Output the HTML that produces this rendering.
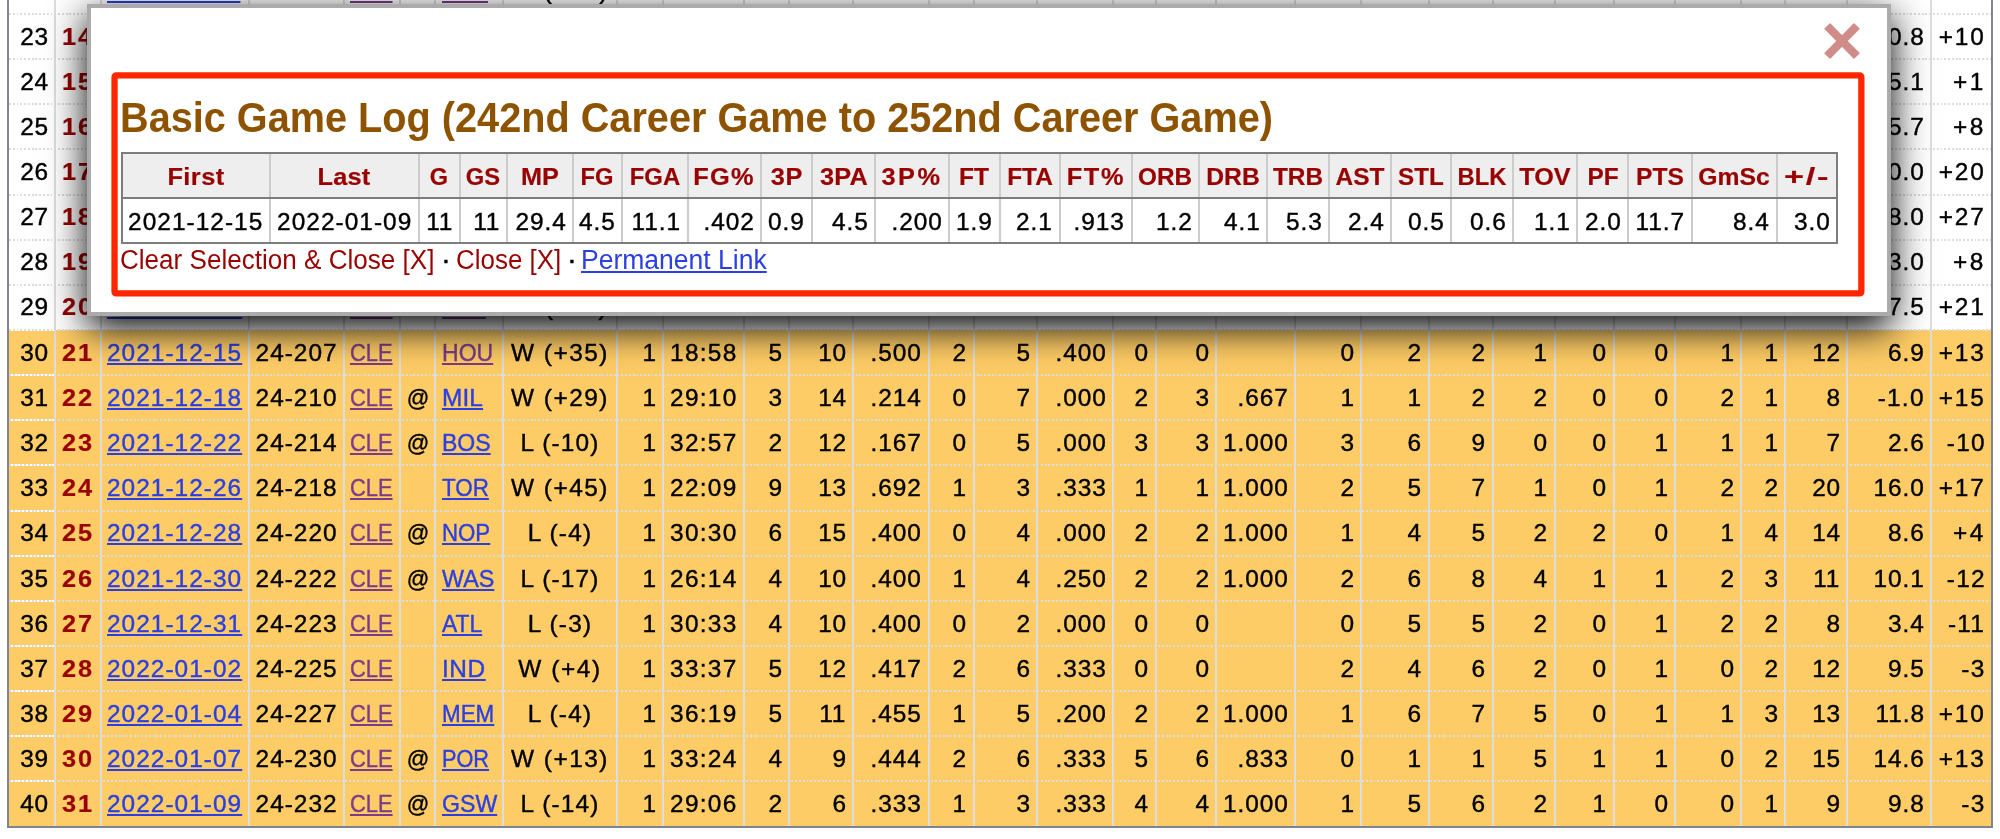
<!DOCTYPE html>
<html><head><meta charset="utf-8"><title>Game Log</title>
<style>
html,body{margin:0;padding:0;background:#fff}
body{width:2000px;height:839px;overflow:hidden;position:relative;font-family:"Liberation Sans",sans-serif;color:#000}
#tbl,#mlines{position:absolute;left:0;top:0;width:2000px;height:839px;overflow:hidden}
.tl{position:absolute;left:0;top:0;width:2000px;height:839px;overflow:hidden;will-change:transform}
.t{position:absolute;white-space:nowrap;font-size:23.7px;line-height:30.81px;display:block}
.t{-webkit-text-stroke:0.4px currentColor}
.b{font-weight:bold;-webkit-text-stroke:0.2px currentColor}
.g{color:#990000}
a.lk{color:#2b3fe2;text-decoration:underline;text-decoration-thickness:2px;text-underline-offset:1.5px}
a.vk{color:#7b3b88;text-decoration:underline;text-decoration-thickness:2px;text-underline-offset:1.5px}
.hl{position:absolute;left:8.20px;width:1983.80px;background:#fecc66}
.hd{position:absolute;left:9.20px;width:1982.80px;height:2px;background:repeating-linear-gradient(90deg,#dcdcdc 0,#dcdcdc 1.89px,transparent 1.89px,transparent 3.78px)}
.hd0{position:absolute;left:9.20px;width:45.00px;height:2px;background:#fff}
.vd{position:absolute;top:0;height:826.65px;width:2px;background:#ddd}
.vb{position:absolute;top:0;height:827.65px;width:2px;background:#7f848c}
.hb{position:absolute;left:7.20px;width:1985.80px;height:2px;background:#7f848c}
#modal{position:absolute;left:87px;top:4px;width:1804px;height:312px;box-sizing:border-box;background:#fff;border:4px solid #ababab;box-shadow:0 12px 36px 0 #000}
#closex{position:absolute}
#redbox{position:absolute;left:0;top:0}
.ttl{-webkit-text-stroke:0;color:#8e5300;font-size:42.0px;line-height:54.6px}
#mhead{position:absolute;background:#eee}
.mvd{position:absolute;width:2px;background:#ccc}
.mvb{position:absolute;width:2px;background:#7d7d7d}
.mhb{position:absolute;height:2px;background:#7d7d7d}
.mh{color:#990000}
.ft{color:#990000;font-size:27px;line-height:35.1px;-webkit-text-stroke:0}
.fd{color:#000;font-size:27px;line-height:35.1px}
a.pl{color:#2b3fe2;text-decoration:underline;text-decoration-thickness:2px;text-underline-offset:1.5px}
</style></head>
<body>
<div id="tbl">
<div class="hl" style="top:330.00px;height:496.65px"></div>
<div class="hd0" style="top:-32px"></div>
<div class="hd" style="top:-32px"></div>
<div class="hd0" style="top:13px"></div>
<div class="hd" style="top:13px"></div>
<div class="hd0" style="top:58px"></div>
<div class="hd" style="top:58px"></div>
<div class="hd0" style="top:103px"></div>
<div class="hd" style="top:103px"></div>
<div class="hd0" style="top:148px"></div>
<div class="hd" style="top:148px"></div>
<div class="hd0" style="top:194px"></div>
<div class="hd" style="top:194px"></div>
<div class="hd0" style="top:239px"></div>
<div class="hd" style="top:239px"></div>
<div class="hd0" style="top:284px"></div>
<div class="hd" style="top:284px"></div>
<div class="hd0" style="top:329px"></div>
<div class="hd" style="top:329px"></div>
<div class="hd0" style="top:374px"></div>
<div class="hd" style="top:374px"></div>
<div class="hd0" style="top:419px"></div>
<div class="hd" style="top:419px"></div>
<div class="hd0" style="top:464px"></div>
<div class="hd" style="top:464px"></div>
<div class="hd0" style="top:510px"></div>
<div class="hd" style="top:510px"></div>
<div class="hd0" style="top:555px"></div>
<div class="hd" style="top:555px"></div>
<div class="hd0" style="top:600px"></div>
<div class="hd" style="top:600px"></div>
<div class="hd0" style="top:645px"></div>
<div class="hd" style="top:645px"></div>
<div class="hd0" style="top:690px"></div>
<div class="hd" style="top:690px"></div>
<div class="hd0" style="top:735px"></div>
<div class="hd" style="top:735px"></div>
<div class="hd0" style="top:780px"></div>
<div class="hd" style="top:780px"></div>
<div class="vd" style="left:54px"></div>
<div class="vd" style="left:100px"></div>
<div class="vd" style="left:248px"></div>
<div class="vd" style="left:343px"></div>
<div class="vd" style="left:399px"></div>
<div class="vd" style="left:434px"></div>
<div class="vd" style="left:502px"></div>
<div class="vd" style="left:616px"></div>
<div class="vd" style="left:662px"></div>
<div class="vd" style="left:743px"></div>
<div class="vd" style="left:788px"></div>
<div class="vd" style="left:852px"></div>
<div class="vd" style="left:928px"></div>
<div class="vd" style="left:973px"></div>
<div class="vd" style="left:1036px"></div>
<div class="vd" style="left:1112px"></div>
<div class="vd" style="left:1155px"></div>
<div class="vd" style="left:1215px"></div>
<div class="vd" style="left:1294px"></div>
<div class="vd" style="left:1360px"></div>
<div class="vd" style="left:1428px"></div>
<div class="vd" style="left:1492px"></div>
<div class="vd" style="left:1554px"></div>
<div class="vd" style="left:1613px"></div>
<div class="vd" style="left:1674px"></div>
<div class="vd" style="left:1740px"></div>
<div class="vd" style="left:1784px"></div>
<div class="vd" style="left:1846px"></div>
<div class="vd" style="left:1930px"></div>
<div class="vb" style="left:7.20px"></div>
<div class="vb" style="left:1991.00px"></div>
<div class="hb" style="top:825.65px"></div>
</div>
<div id="tblt" class="tl">
<span class="t" style="top:-24.22px;letter-spacing:0.749px;right:1951.30px;transform-origin:100% 50%;transform:scaleX(1.0300);">22</span>
<span class="t b g" style="top:-24.22px;letter-spacing:1.810px;right:1905.80px;transform-origin:100% 50%;transform:scaleX(1.0700);">13</span>
<a class="t lk" style="top:-24.22px;letter-spacing:1.010px;left:107.20px;transform-origin:0 50%;transform:scaleX(1.0300);">2021-11-27</a>
<span class="t" style="top:-24.22px;letter-spacing:0.966px;right:1662.70px;transform-origin:100% 50%;transform:scaleX(1.0300);">24-189</span>
<a class="t vk" style="top:-24.22px;left:350.30px;transform-origin:0 50%;transform:scaleX(0.9234);">CLE</a>
<a class="t vk" style="top:-24.22px;left:442.00px;transform-origin:0 50%;transform:scaleX(0.9440);">ORL</a>
<span class="t" style="top:-24.22px;letter-spacing:1.442px;left:559.90px;transform-origin:50% 50%;transform:translateX(-50%) scaleX(1.0300);">W (+20)</span>
<span class="t" style="top:-24.22px;letter-spacing:0.749px;right:1343.50px;transform-origin:100% 50%;transform:scaleX(1.0300);">1</span>
<span class="t" style="top:-24.22px;letter-spacing:1.271px;right:1262.50px;transform-origin:100% 50%;transform:scaleX(1.0300);">30:43</span>
<span class="t" style="top:-24.22px;letter-spacing:0.749px;right:1217.40px;transform-origin:100% 50%;transform:scaleX(1.0300);">5</span>
<span class="t" style="top:-24.22px;letter-spacing:0.749px;right:1153.50px;transform-origin:100% 50%;transform:scaleX(1.0300);">12</span>
<span class="t" style="top:-24.22px;letter-spacing:0.909px;right:1077.90px;transform-origin:100% 50%;transform:scaleX(1.0300);">.417</span>
<span class="t" style="top:-24.22px;letter-spacing:0.749px;right:1032.80px;transform-origin:100% 50%;transform:scaleX(1.0300);">2</span>
<span class="t" style="top:-24.22px;letter-spacing:0.749px;right:969.00px;transform-origin:100% 50%;transform:scaleX(1.0300);">6</span>
<span class="t" style="top:-24.22px;letter-spacing:0.909px;right:893.70px;transform-origin:100% 50%;transform:scaleX(1.0300);">.333</span>
<span class="t" style="top:-24.22px;letter-spacing:0.749px;right:850.90px;transform-origin:100% 50%;transform:scaleX(1.0300);">0</span>
<span class="t" style="top:-24.22px;letter-spacing:0.749px;right:790.50px;transform-origin:100% 50%;transform:scaleX(1.0300);">0</span>
<span class="t" style="top:-24.22px;letter-spacing:0.749px;right:645.50px;transform-origin:100% 50%;transform:scaleX(1.0300);">1</span>
<span class="t" style="top:-24.22px;letter-spacing:0.749px;right:577.70px;transform-origin:100% 50%;transform:scaleX(1.0300);">6</span>
<span class="t" style="top:-24.22px;letter-spacing:0.749px;right:513.90px;transform-origin:100% 50%;transform:scaleX(1.0300);">7</span>
<span class="t" style="top:-24.22px;letter-spacing:0.749px;right:451.70px;transform-origin:100% 50%;transform:scaleX(1.0300);">2</span>
<span class="t" style="top:-24.22px;letter-spacing:0.749px;right:392.80px;transform-origin:100% 50%;transform:scaleX(1.0300);">0</span>
<span class="t" style="top:-24.22px;letter-spacing:0.749px;right:331.10px;transform-origin:100% 50%;transform:scaleX(1.0300);">0</span>
<span class="t" style="top:-24.22px;letter-spacing:0.749px;right:265.10px;transform-origin:100% 50%;transform:scaleX(1.0300);">1</span>
<span class="t" style="top:-24.22px;letter-spacing:0.749px;right:221.50px;transform-origin:100% 50%;transform:scaleX(1.0300);">3</span>
<span class="t" style="top:-24.22px;letter-spacing:0.749px;right:159.50px;transform-origin:100% 50%;transform:scaleX(1.0300);">12</span>
<span class="t" style="top:-24.22px;letter-spacing:0.962px;right:75.10px;transform-origin:100% 50%;transform:scaleX(1.0300);">8.9</span>
<span class="t" style="top:-24.22px;letter-spacing:1.858px;right:14.50px;transform-origin:100% 50%;transform:scaleX(1.0300);">+12</span>
<span class="t" style="top:21.73px;letter-spacing:0.749px;right:1951.30px;transform-origin:100% 50%;transform:scaleX(1.0300);">23</span>
<span class="t b g" style="top:21.73px;letter-spacing:1.810px;right:1905.80px;transform-origin:100% 50%;transform:scaleX(1.0700);">14</span>
<a class="t lk" style="top:21.73px;letter-spacing:1.010px;left:107.20px;transform-origin:0 50%;transform:scaleX(1.0300);">2021-11-29</a>
<span class="t" style="top:21.73px;letter-spacing:0.966px;right:1662.70px;transform-origin:100% 50%;transform:scaleX(1.0300);">24-191</span>
<a class="t vk" style="top:21.73px;left:350.30px;transform-origin:0 50%;transform:scaleX(0.9234);">CLE</a>
<span class="t" style="top:21.73px;left:417.75px;transform-origin:50% 50%;transform:translateX(-50%) scaleX(0.9377);">@</span>
<a class="t lk" style="top:21.73px;left:442.00px;transform-origin:0 50%;transform:scaleX(0.9845);">DAL</a>
<span class="t" style="top:21.73px;letter-spacing:1.442px;left:559.90px;transform-origin:50% 50%;transform:translateX(-50%) scaleX(1.0300);">W (+18)</span>
<span class="t" style="top:21.73px;letter-spacing:0.749px;right:1343.50px;transform-origin:100% 50%;transform:scaleX(1.0300);">1</span>
<span class="t" style="top:21.73px;letter-spacing:1.271px;right:1262.50px;transform-origin:100% 50%;transform:scaleX(1.0300);">28:38</span>
<span class="t" style="top:21.73px;letter-spacing:0.749px;right:1217.40px;transform-origin:100% 50%;transform:scaleX(1.0300);">5</span>
<span class="t" style="top:21.73px;letter-spacing:0.749px;right:1153.50px;transform-origin:100% 50%;transform:scaleX(1.0300);">11</span>
<span class="t" style="top:21.73px;letter-spacing:0.909px;right:1077.90px;transform-origin:100% 50%;transform:scaleX(1.0300);">.455</span>
<span class="t" style="top:21.73px;letter-spacing:0.749px;right:1032.80px;transform-origin:100% 50%;transform:scaleX(1.0300);">2</span>
<span class="t" style="top:21.73px;letter-spacing:0.749px;right:969.00px;transform-origin:100% 50%;transform:scaleX(1.0300);">6</span>
<span class="t" style="top:21.73px;letter-spacing:0.909px;right:893.70px;transform-origin:100% 50%;transform:scaleX(1.0300);">.333</span>
<span class="t" style="top:21.73px;letter-spacing:0.749px;right:850.90px;transform-origin:100% 50%;transform:scaleX(1.0300);">2</span>
<span class="t" style="top:21.73px;letter-spacing:0.749px;right:790.50px;transform-origin:100% 50%;transform:scaleX(1.0300);">2</span>
<span class="t" style="top:21.73px;letter-spacing:0.877px;right:711.10px;transform-origin:100% 50%;transform:scaleX(1.0300);">1.000</span>
<span class="t" style="top:21.73px;letter-spacing:0.749px;right:645.50px;transform-origin:100% 50%;transform:scaleX(1.0300);">0</span>
<span class="t" style="top:21.73px;letter-spacing:0.749px;right:577.70px;transform-origin:100% 50%;transform:scaleX(1.0300);">6</span>
<span class="t" style="top:21.73px;letter-spacing:0.749px;right:513.90px;transform-origin:100% 50%;transform:scaleX(1.0300);">6</span>
<span class="t" style="top:21.73px;letter-spacing:0.749px;right:451.70px;transform-origin:100% 50%;transform:scaleX(1.0300);">1</span>
<span class="t" style="top:21.73px;letter-spacing:0.749px;right:392.80px;transform-origin:100% 50%;transform:scaleX(1.0300);">1</span>
<span class="t" style="top:21.73px;letter-spacing:0.749px;right:331.10px;transform-origin:100% 50%;transform:scaleX(1.0300);">0</span>
<span class="t" style="top:21.73px;letter-spacing:0.749px;right:265.10px;transform-origin:100% 50%;transform:scaleX(1.0300);">1</span>
<span class="t" style="top:21.73px;letter-spacing:0.749px;right:221.50px;transform-origin:100% 50%;transform:scaleX(1.0300);">1</span>
<span class="t" style="top:21.73px;letter-spacing:0.749px;right:159.50px;transform-origin:100% 50%;transform:scaleX(1.0300);">14</span>
<span class="t" style="top:21.73px;letter-spacing:0.909px;right:75.10px;transform-origin:100% 50%;transform:scaleX(1.0300);">10.8</span>
<span class="t" style="top:21.73px;letter-spacing:1.858px;right:14.50px;transform-origin:100% 50%;transform:scaleX(1.0300);">+10</span>
<span class="t" style="top:66.88px;letter-spacing:0.749px;right:1951.30px;transform-origin:100% 50%;transform:scaleX(1.0300);">24</span>
<span class="t b g" style="top:66.88px;letter-spacing:1.810px;right:1905.80px;transform-origin:100% 50%;transform:scaleX(1.0700);">15</span>
<a class="t lk" style="top:66.88px;letter-spacing:1.010px;left:107.20px;transform-origin:0 50%;transform:scaleX(1.0300);">2021-12-01</a>
<span class="t" style="top:66.88px;letter-spacing:0.966px;right:1662.70px;transform-origin:100% 50%;transform:scaleX(1.0300);">24-193</span>
<a class="t vk" style="top:66.88px;left:350.30px;transform-origin:0 50%;transform:scaleX(0.9234);">CLE</a>
<span class="t" style="top:66.88px;left:417.75px;transform-origin:50% 50%;transform:translateX(-50%) scaleX(0.9377);">@</span>
<a class="t lk" style="top:66.88px;letter-spacing:0.177px;left:442.00px;transform-origin:0 50%;transform:scaleX(1.0300);">MIA</a>
<span class="t" style="top:66.88px;letter-spacing:1.442px;left:559.90px;transform-origin:50% 50%;transform:translateX(-50%) scaleX(1.0300);">W (+26)</span>
<span class="t" style="top:66.88px;letter-spacing:0.749px;right:1343.50px;transform-origin:100% 50%;transform:scaleX(1.0300);">1</span>
<span class="t" style="top:66.88px;letter-spacing:1.271px;right:1262.50px;transform-origin:100% 50%;transform:scaleX(1.0300);">30:22</span>
<span class="t" style="top:66.88px;letter-spacing:0.749px;right:1217.40px;transform-origin:100% 50%;transform:scaleX(1.0300);">7</span>
<span class="t" style="top:66.88px;letter-spacing:0.749px;right:1153.50px;transform-origin:100% 50%;transform:scaleX(1.0300);">14</span>
<span class="t" style="top:66.88px;letter-spacing:0.909px;right:1077.90px;transform-origin:100% 50%;transform:scaleX(1.0300);">.500</span>
<span class="t" style="top:66.88px;letter-spacing:0.749px;right:1032.80px;transform-origin:100% 50%;transform:scaleX(1.0300);">3</span>
<span class="t" style="top:66.88px;letter-spacing:0.749px;right:969.00px;transform-origin:100% 50%;transform:scaleX(1.0300);">8</span>
<span class="t" style="top:66.88px;letter-spacing:0.909px;right:893.70px;transform-origin:100% 50%;transform:scaleX(1.0300);">.375</span>
<span class="t" style="top:66.88px;letter-spacing:0.749px;right:850.90px;transform-origin:100% 50%;transform:scaleX(1.0300);">1</span>
<span class="t" style="top:66.88px;letter-spacing:0.749px;right:790.50px;transform-origin:100% 50%;transform:scaleX(1.0300);">1</span>
<span class="t" style="top:66.88px;letter-spacing:0.877px;right:711.10px;transform-origin:100% 50%;transform:scaleX(1.0300);">1.000</span>
<span class="t" style="top:66.88px;letter-spacing:0.749px;right:645.50px;transform-origin:100% 50%;transform:scaleX(1.0300);">1</span>
<span class="t" style="top:66.88px;letter-spacing:0.749px;right:577.70px;transform-origin:100% 50%;transform:scaleX(1.0300);">3</span>
<span class="t" style="top:66.88px;letter-spacing:0.749px;right:513.90px;transform-origin:100% 50%;transform:scaleX(1.0300);">4</span>
<span class="t" style="top:66.88px;letter-spacing:0.749px;right:451.70px;transform-origin:100% 50%;transform:scaleX(1.0300);">1</span>
<span class="t" style="top:66.88px;letter-spacing:0.749px;right:392.80px;transform-origin:100% 50%;transform:scaleX(1.0300);">0</span>
<span class="t" style="top:66.88px;letter-spacing:0.749px;right:331.10px;transform-origin:100% 50%;transform:scaleX(1.0300);">1</span>
<span class="t" style="top:66.88px;letter-spacing:0.749px;right:265.10px;transform-origin:100% 50%;transform:scaleX(1.0300);">0</span>
<span class="t" style="top:66.88px;letter-spacing:0.749px;right:221.50px;transform-origin:100% 50%;transform:scaleX(1.0300);">2</span>
<span class="t" style="top:66.88px;letter-spacing:0.749px;right:159.50px;transform-origin:100% 50%;transform:scaleX(1.0300);">18</span>
<span class="t" style="top:66.88px;letter-spacing:0.909px;right:75.10px;transform-origin:100% 50%;transform:scaleX(1.0300);">15.1</span>
<span class="t" style="top:66.88px;letter-spacing:2.413px;right:14.50px;transform-origin:100% 50%;transform:scaleX(1.0300);">+1</span>
<span class="t" style="top:112.03px;letter-spacing:0.749px;right:1951.30px;transform-origin:100% 50%;transform:scaleX(1.0300);">25</span>
<span class="t b g" style="top:112.03px;letter-spacing:1.810px;right:1905.80px;transform-origin:100% 50%;transform:scaleX(1.0700);">16</span>
<a class="t lk" style="top:112.03px;letter-spacing:1.010px;left:107.20px;transform-origin:0 50%;transform:scaleX(1.0300);">2021-12-03</a>
<span class="t" style="top:112.03px;letter-spacing:0.966px;right:1662.70px;transform-origin:100% 50%;transform:scaleX(1.0300);">24-195</span>
<a class="t vk" style="top:112.03px;left:350.30px;transform-origin:0 50%;transform:scaleX(0.9234);">CLE</a>
<span class="t" style="top:112.03px;left:417.75px;transform-origin:50% 50%;transform:translateX(-50%) scaleX(0.9377);">@</span>
<a class="t lk" style="top:112.03px;left:442.00px;transform-origin:0 50%;transform:scaleX(0.9850);">WAS</a>
<span class="t" style="top:112.03px;letter-spacing:1.442px;left:559.90px;transform-origin:50% 50%;transform:translateX(-50%) scaleX(1.0300);">W (+15)</span>
<span class="t" style="top:112.03px;letter-spacing:0.749px;right:1343.50px;transform-origin:100% 50%;transform:scaleX(1.0300);">1</span>
<span class="t" style="top:112.03px;letter-spacing:1.271px;right:1262.50px;transform-origin:100% 50%;transform:scaleX(1.0300);">31:17</span>
<span class="t" style="top:112.03px;letter-spacing:0.749px;right:1217.40px;transform-origin:100% 50%;transform:scaleX(1.0300);">3</span>
<span class="t" style="top:112.03px;letter-spacing:0.749px;right:1153.50px;transform-origin:100% 50%;transform:scaleX(1.0300);">9</span>
<span class="t" style="top:112.03px;letter-spacing:0.909px;right:1077.90px;transform-origin:100% 50%;transform:scaleX(1.0300);">.333</span>
<span class="t" style="top:112.03px;letter-spacing:0.749px;right:1032.80px;transform-origin:100% 50%;transform:scaleX(1.0300);">1</span>
<span class="t" style="top:112.03px;letter-spacing:0.749px;right:969.00px;transform-origin:100% 50%;transform:scaleX(1.0300);">5</span>
<span class="t" style="top:112.03px;letter-spacing:0.909px;right:893.70px;transform-origin:100% 50%;transform:scaleX(1.0300);">.200</span>
<span class="t" style="top:112.03px;letter-spacing:0.749px;right:850.90px;transform-origin:100% 50%;transform:scaleX(1.0300);">2</span>
<span class="t" style="top:112.03px;letter-spacing:0.749px;right:790.50px;transform-origin:100% 50%;transform:scaleX(1.0300);">2</span>
<span class="t" style="top:112.03px;letter-spacing:0.877px;right:711.10px;transform-origin:100% 50%;transform:scaleX(1.0300);">1.000</span>
<span class="t" style="top:112.03px;letter-spacing:0.749px;right:645.50px;transform-origin:100% 50%;transform:scaleX(1.0300);">0</span>
<span class="t" style="top:112.03px;letter-spacing:0.749px;right:577.70px;transform-origin:100% 50%;transform:scaleX(1.0300);">5</span>
<span class="t" style="top:112.03px;letter-spacing:0.749px;right:513.90px;transform-origin:100% 50%;transform:scaleX(1.0300);">5</span>
<span class="t" style="top:112.03px;letter-spacing:0.749px;right:451.70px;transform-origin:100% 50%;transform:scaleX(1.0300);">1</span>
<span class="t" style="top:112.03px;letter-spacing:0.749px;right:392.80px;transform-origin:100% 50%;transform:scaleX(1.0300);">1</span>
<span class="t" style="top:112.03px;letter-spacing:0.749px;right:331.10px;transform-origin:100% 50%;transform:scaleX(1.0300);">0</span>
<span class="t" style="top:112.03px;letter-spacing:0.749px;right:265.10px;transform-origin:100% 50%;transform:scaleX(1.0300);">1</span>
<span class="t" style="top:112.03px;letter-spacing:0.749px;right:221.50px;transform-origin:100% 50%;transform:scaleX(1.0300);">2</span>
<span class="t" style="top:112.03px;letter-spacing:0.749px;right:159.50px;transform-origin:100% 50%;transform:scaleX(1.0300);">9</span>
<span class="t" style="top:112.03px;letter-spacing:0.962px;right:75.10px;transform-origin:100% 50%;transform:scaleX(1.0300);">5.7</span>
<span class="t" style="top:112.03px;letter-spacing:2.413px;right:14.50px;transform-origin:100% 50%;transform:scaleX(1.0300);">+8</span>
<span class="t" style="top:157.18px;letter-spacing:0.749px;right:1951.30px;transform-origin:100% 50%;transform:scaleX(1.0300);">26</span>
<span class="t b g" style="top:157.18px;letter-spacing:1.810px;right:1905.80px;transform-origin:100% 50%;transform:scaleX(1.0700);">17</span>
<a class="t lk" style="top:157.18px;letter-spacing:1.010px;left:107.20px;transform-origin:0 50%;transform:scaleX(1.0300);">2021-12-05</a>
<span class="t" style="top:157.18px;letter-spacing:0.966px;right:1662.70px;transform-origin:100% 50%;transform:scaleX(1.0300);">24-197</span>
<a class="t vk" style="top:157.18px;left:350.30px;transform-origin:0 50%;transform:scaleX(0.9234);">CLE</a>
<a class="t lk" style="top:157.18px;left:442.00px;transform-origin:0 50%;transform:scaleX(0.9671);">UTA</a>
<span class="t" style="top:157.18px;letter-spacing:1.175px;left:559.90px;transform-origin:50% 50%;transform:translateX(-50%) scaleX(1.0300);">L (-1)</span>
<span class="t" style="top:157.18px;letter-spacing:0.749px;right:1343.50px;transform-origin:100% 50%;transform:scaleX(1.0300);">1</span>
<span class="t" style="top:157.18px;letter-spacing:1.271px;right:1262.50px;transform-origin:100% 50%;transform:scaleX(1.0300);">33:30</span>
<span class="t" style="top:157.18px;letter-spacing:0.749px;right:1217.40px;transform-origin:100% 50%;transform:scaleX(1.0300);">8</span>
<span class="t" style="top:157.18px;letter-spacing:0.749px;right:1153.50px;transform-origin:100% 50%;transform:scaleX(1.0300);">15</span>
<span class="t" style="top:157.18px;letter-spacing:0.909px;right:1077.90px;transform-origin:100% 50%;transform:scaleX(1.0300);">.533</span>
<span class="t" style="top:157.18px;letter-spacing:0.749px;right:1032.80px;transform-origin:100% 50%;transform:scaleX(1.0300);">4</span>
<span class="t" style="top:157.18px;letter-spacing:0.749px;right:969.00px;transform-origin:100% 50%;transform:scaleX(1.0300);">9</span>
<span class="t" style="top:157.18px;letter-spacing:0.909px;right:893.70px;transform-origin:100% 50%;transform:scaleX(1.0300);">.444</span>
<span class="t" style="top:157.18px;letter-spacing:0.749px;right:850.90px;transform-origin:100% 50%;transform:scaleX(1.0300);">4</span>
<span class="t" style="top:157.18px;letter-spacing:0.749px;right:790.50px;transform-origin:100% 50%;transform:scaleX(1.0300);">4</span>
<span class="t" style="top:157.18px;letter-spacing:0.877px;right:711.10px;transform-origin:100% 50%;transform:scaleX(1.0300);">1.000</span>
<span class="t" style="top:157.18px;letter-spacing:0.749px;right:645.50px;transform-origin:100% 50%;transform:scaleX(1.0300);">1</span>
<span class="t" style="top:157.18px;letter-spacing:0.749px;right:577.70px;transform-origin:100% 50%;transform:scaleX(1.0300);">5</span>
<span class="t" style="top:157.18px;letter-spacing:0.749px;right:513.90px;transform-origin:100% 50%;transform:scaleX(1.0300);">6</span>
<span class="t" style="top:157.18px;letter-spacing:0.749px;right:451.70px;transform-origin:100% 50%;transform:scaleX(1.0300);">1</span>
<span class="t" style="top:157.18px;letter-spacing:0.749px;right:392.80px;transform-origin:100% 50%;transform:scaleX(1.0300);">1</span>
<span class="t" style="top:157.18px;letter-spacing:0.749px;right:331.10px;transform-origin:100% 50%;transform:scaleX(1.0300);">0</span>
<span class="t" style="top:157.18px;letter-spacing:0.749px;right:265.10px;transform-origin:100% 50%;transform:scaleX(1.0300);">1</span>
<span class="t" style="top:157.18px;letter-spacing:0.749px;right:221.50px;transform-origin:100% 50%;transform:scaleX(1.0300);">3</span>
<span class="t" style="top:157.18px;letter-spacing:0.749px;right:159.50px;transform-origin:100% 50%;transform:scaleX(1.0300);">24</span>
<span class="t" style="top:157.18px;letter-spacing:0.909px;right:75.10px;transform-origin:100% 50%;transform:scaleX(1.0300);">20.0</span>
<span class="t" style="top:157.18px;letter-spacing:1.858px;right:14.50px;transform-origin:100% 50%;transform:scaleX(1.0300);">+20</span>
<span class="t" style="top:202.33px;letter-spacing:0.749px;right:1951.30px;transform-origin:100% 50%;transform:scaleX(1.0300);">27</span>
<span class="t b g" style="top:202.33px;letter-spacing:1.810px;right:1905.80px;transform-origin:100% 50%;transform:scaleX(1.0700);">18</span>
<a class="t lk" style="top:202.33px;letter-spacing:1.010px;left:107.20px;transform-origin:0 50%;transform:scaleX(1.0300);">2021-12-06</a>
<span class="t" style="top:202.33px;letter-spacing:0.966px;right:1662.70px;transform-origin:100% 50%;transform:scaleX(1.0300);">24-198</span>
<a class="t vk" style="top:202.33px;left:350.30px;transform-origin:0 50%;transform:scaleX(0.9234);">CLE</a>
<span class="t" style="top:202.33px;left:417.75px;transform-origin:50% 50%;transform:translateX(-50%) scaleX(0.9377);">@</span>
<a class="t lk" style="top:202.33px;letter-spacing:0.126px;left:442.00px;transform-origin:0 50%;transform:scaleX(1.0300);">MIL</a>
<span class="t" style="top:202.33px;letter-spacing:1.175px;left:559.90px;transform-origin:50% 50%;transform:translateX(-50%) scaleX(1.0300);">L (-8)</span>
<span class="t" style="top:202.33px;letter-spacing:0.749px;right:1343.50px;transform-origin:100% 50%;transform:scaleX(1.0300);">1</span>
<span class="t" style="top:202.33px;letter-spacing:1.271px;right:1262.50px;transform-origin:100% 50%;transform:scaleX(1.0300);">29:12</span>
<span class="t" style="top:202.33px;letter-spacing:0.749px;right:1217.40px;transform-origin:100% 50%;transform:scaleX(1.0300);">7</span>
<span class="t" style="top:202.33px;letter-spacing:0.749px;right:1153.50px;transform-origin:100% 50%;transform:scaleX(1.0300);">13</span>
<span class="t" style="top:202.33px;letter-spacing:0.909px;right:1077.90px;transform-origin:100% 50%;transform:scaleX(1.0300);">.538</span>
<span class="t" style="top:202.33px;letter-spacing:0.749px;right:1032.80px;transform-origin:100% 50%;transform:scaleX(1.0300);">3</span>
<span class="t" style="top:202.33px;letter-spacing:0.749px;right:969.00px;transform-origin:100% 50%;transform:scaleX(1.0300);">7</span>
<span class="t" style="top:202.33px;letter-spacing:0.909px;right:893.70px;transform-origin:100% 50%;transform:scaleX(1.0300);">.429</span>
<span class="t" style="top:202.33px;letter-spacing:0.749px;right:850.90px;transform-origin:100% 50%;transform:scaleX(1.0300);">3</span>
<span class="t" style="top:202.33px;letter-spacing:0.749px;right:790.50px;transform-origin:100% 50%;transform:scaleX(1.0300);">4</span>
<span class="t" style="top:202.33px;letter-spacing:0.909px;right:711.10px;transform-origin:100% 50%;transform:scaleX(1.0300);">.750</span>
<span class="t" style="top:202.33px;letter-spacing:0.749px;right:645.50px;transform-origin:100% 50%;transform:scaleX(1.0300);">2</span>
<span class="t" style="top:202.33px;letter-spacing:0.749px;right:577.70px;transform-origin:100% 50%;transform:scaleX(1.0300);">4</span>
<span class="t" style="top:202.33px;letter-spacing:0.749px;right:513.90px;transform-origin:100% 50%;transform:scaleX(1.0300);">6</span>
<span class="t" style="top:202.33px;letter-spacing:0.749px;right:451.70px;transform-origin:100% 50%;transform:scaleX(1.0300);">2</span>
<span class="t" style="top:202.33px;letter-spacing:0.749px;right:392.80px;transform-origin:100% 50%;transform:scaleX(1.0300);">1</span>
<span class="t" style="top:202.33px;letter-spacing:0.749px;right:331.10px;transform-origin:100% 50%;transform:scaleX(1.0300);">1</span>
<span class="t" style="top:202.33px;letter-spacing:0.749px;right:265.10px;transform-origin:100% 50%;transform:scaleX(1.0300);">1</span>
<span class="t" style="top:202.33px;letter-spacing:0.749px;right:221.50px;transform-origin:100% 50%;transform:scaleX(1.0300);">2</span>
<span class="t" style="top:202.33px;letter-spacing:0.749px;right:159.50px;transform-origin:100% 50%;transform:scaleX(1.0300);">20</span>
<span class="t" style="top:202.33px;letter-spacing:0.909px;right:75.10px;transform-origin:100% 50%;transform:scaleX(1.0300);">18.0</span>
<span class="t" style="top:202.33px;letter-spacing:1.858px;right:14.50px;transform-origin:100% 50%;transform:scaleX(1.0300);">+27</span>
<span class="t" style="top:247.48px;letter-spacing:0.749px;right:1951.30px;transform-origin:100% 50%;transform:scaleX(1.0300);">28</span>
<span class="t b g" style="top:247.48px;letter-spacing:1.810px;right:1905.80px;transform-origin:100% 50%;transform:scaleX(1.0700);">19</span>
<a class="t lk" style="top:247.48px;letter-spacing:1.010px;left:107.20px;transform-origin:0 50%;transform:scaleX(1.0300);">2021-12-08</a>
<span class="t" style="top:247.48px;letter-spacing:0.966px;right:1662.70px;transform-origin:100% 50%;transform:scaleX(1.0300);">24-200</span>
<a class="t vk" style="top:247.48px;left:350.30px;transform-origin:0 50%;transform:scaleX(0.9234);">CLE</a>
<a class="t lk" style="top:247.48px;letter-spacing:0.048px;left:442.00px;transform-origin:0 50%;transform:scaleX(1.0300);">CHI</a>
<span class="t" style="top:247.48px;letter-spacing:1.442px;left:559.90px;transform-origin:50% 50%;transform:translateX(-50%) scaleX(1.0300);">W (+23)</span>
<span class="t" style="top:247.48px;letter-spacing:0.749px;right:1343.50px;transform-origin:100% 50%;transform:scaleX(1.0300);">1</span>
<span class="t" style="top:247.48px;letter-spacing:1.271px;right:1262.50px;transform-origin:100% 50%;transform:scaleX(1.0300);">25:04</span>
<span class="t" style="top:247.48px;letter-spacing:0.749px;right:1217.40px;transform-origin:100% 50%;transform:scaleX(1.0300);">3</span>
<span class="t" style="top:247.48px;letter-spacing:0.749px;right:1153.50px;transform-origin:100% 50%;transform:scaleX(1.0300);">10</span>
<span class="t" style="top:247.48px;letter-spacing:0.909px;right:1077.90px;transform-origin:100% 50%;transform:scaleX(1.0300);">.300</span>
<span class="t" style="top:247.48px;letter-spacing:0.749px;right:1032.80px;transform-origin:100% 50%;transform:scaleX(1.0300);">1</span>
<span class="t" style="top:247.48px;letter-spacing:0.749px;right:969.00px;transform-origin:100% 50%;transform:scaleX(1.0300);">5</span>
<span class="t" style="top:247.48px;letter-spacing:0.909px;right:893.70px;transform-origin:100% 50%;transform:scaleX(1.0300);">.200</span>
<span class="t" style="top:247.48px;letter-spacing:0.749px;right:850.90px;transform-origin:100% 50%;transform:scaleX(1.0300);">0</span>
<span class="t" style="top:247.48px;letter-spacing:0.749px;right:790.50px;transform-origin:100% 50%;transform:scaleX(1.0300);">0</span>
<span class="t" style="top:247.48px;letter-spacing:0.749px;right:645.50px;transform-origin:100% 50%;transform:scaleX(1.0300);">1</span>
<span class="t" style="top:247.48px;letter-spacing:0.749px;right:577.70px;transform-origin:100% 50%;transform:scaleX(1.0300);">4</span>
<span class="t" style="top:247.48px;letter-spacing:0.749px;right:513.90px;transform-origin:100% 50%;transform:scaleX(1.0300);">5</span>
<span class="t" style="top:247.48px;letter-spacing:0.749px;right:451.70px;transform-origin:100% 50%;transform:scaleX(1.0300);">1</span>
<span class="t" style="top:247.48px;letter-spacing:0.749px;right:392.80px;transform-origin:100% 50%;transform:scaleX(1.0300);">0</span>
<span class="t" style="top:247.48px;letter-spacing:0.749px;right:331.10px;transform-origin:100% 50%;transform:scaleX(1.0300);">1</span>
<span class="t" style="top:247.48px;letter-spacing:0.749px;right:265.10px;transform-origin:100% 50%;transform:scaleX(1.0300);">1</span>
<span class="t" style="top:247.48px;letter-spacing:0.749px;right:221.50px;transform-origin:100% 50%;transform:scaleX(1.0300);">2</span>
<span class="t" style="top:247.48px;letter-spacing:0.749px;right:159.50px;transform-origin:100% 50%;transform:scaleX(1.0300);">7</span>
<span class="t" style="top:247.48px;letter-spacing:0.962px;right:75.10px;transform-origin:100% 50%;transform:scaleX(1.0300);">3.0</span>
<span class="t" style="top:247.48px;letter-spacing:2.413px;right:14.50px;transform-origin:100% 50%;transform:scaleX(1.0300);">+8</span>
<span class="t" style="top:292.03px;letter-spacing:0.749px;right:1951.30px;transform-origin:100% 50%;transform:scaleX(1.0300);">29</span>
<span class="t b g" style="top:292.03px;letter-spacing:1.810px;right:1905.80px;transform-origin:100% 50%;transform:scaleX(1.0700);">20</span>
<a class="t lk" style="top:292.03px;letter-spacing:1.010px;left:107.20px;transform-origin:0 50%;transform:scaleX(1.0300);">2021-12-13</a>
<span class="t" style="top:292.03px;letter-spacing:0.966px;right:1662.70px;transform-origin:100% 50%;transform:scaleX(1.0300);">24-205</span>
<a class="t vk" style="top:292.03px;left:350.30px;transform-origin:0 50%;transform:scaleX(0.9234);">CLE</a>
<a class="t vk" style="top:292.03px;letter-spacing:0.177px;left:442.00px;transform-origin:0 50%;transform:scaleX(1.0300);">MIA</a>
<span class="t" style="top:292.03px;letter-spacing:1.442px;left:559.90px;transform-origin:50% 50%;transform:translateX(-50%) scaleX(1.0300);">W (+11)</span>
<span class="t" style="top:292.03px;letter-spacing:0.749px;right:1343.50px;transform-origin:100% 50%;transform:scaleX(1.0300);">1</span>
<span class="t" style="top:292.03px;letter-spacing:1.271px;right:1262.50px;transform-origin:100% 50%;transform:scaleX(1.0300);">27:51</span>
<span class="t" style="top:292.03px;letter-spacing:0.749px;right:1217.40px;transform-origin:100% 50%;transform:scaleX(1.0300);">4</span>
<span class="t" style="top:292.03px;letter-spacing:0.749px;right:1153.50px;transform-origin:100% 50%;transform:scaleX(1.0300);">10</span>
<span class="t" style="top:292.03px;letter-spacing:0.909px;right:1077.90px;transform-origin:100% 50%;transform:scaleX(1.0300);">.400</span>
<span class="t" style="top:292.03px;letter-spacing:0.749px;right:1032.80px;transform-origin:100% 50%;transform:scaleX(1.0300);">2</span>
<span class="t" style="top:292.03px;letter-spacing:0.749px;right:969.00px;transform-origin:100% 50%;transform:scaleX(1.0300);">6</span>
<span class="t" style="top:292.03px;letter-spacing:0.909px;right:893.70px;transform-origin:100% 50%;transform:scaleX(1.0300);">.333</span>
<span class="t" style="top:292.03px;letter-spacing:0.749px;right:850.90px;transform-origin:100% 50%;transform:scaleX(1.0300);">0</span>
<span class="t" style="top:292.03px;letter-spacing:0.749px;right:790.50px;transform-origin:100% 50%;transform:scaleX(1.0300);">0</span>
<span class="t" style="top:292.03px;letter-spacing:0.749px;right:645.50px;transform-origin:100% 50%;transform:scaleX(1.0300);">1</span>
<span class="t" style="top:292.03px;letter-spacing:0.749px;right:577.70px;transform-origin:100% 50%;transform:scaleX(1.0300);">5</span>
<span class="t" style="top:292.03px;letter-spacing:0.749px;right:513.90px;transform-origin:100% 50%;transform:scaleX(1.0300);">6</span>
<span class="t" style="top:292.03px;letter-spacing:0.749px;right:451.70px;transform-origin:100% 50%;transform:scaleX(1.0300);">2</span>
<span class="t" style="top:292.03px;letter-spacing:0.749px;right:392.80px;transform-origin:100% 50%;transform:scaleX(1.0300);">1</span>
<span class="t" style="top:292.03px;letter-spacing:0.749px;right:331.10px;transform-origin:100% 50%;transform:scaleX(1.0300);">0</span>
<span class="t" style="top:292.03px;letter-spacing:0.749px;right:265.10px;transform-origin:100% 50%;transform:scaleX(1.0300);">1</span>
<span class="t" style="top:292.03px;letter-spacing:0.749px;right:221.50px;transform-origin:100% 50%;transform:scaleX(1.0300);">2</span>
<span class="t" style="top:292.03px;letter-spacing:0.749px;right:159.50px;transform-origin:100% 50%;transform:scaleX(1.0300);">10</span>
<span class="t" style="top:292.03px;letter-spacing:0.962px;right:75.10px;transform-origin:100% 50%;transform:scaleX(1.0300);">7.5</span>
<span class="t" style="top:292.03px;letter-spacing:1.858px;right:14.50px;transform-origin:100% 50%;transform:scaleX(1.0300);">+21</span>
<span class="t" style="top:337.78px;letter-spacing:0.749px;right:1951.30px;transform-origin:100% 50%;transform:scaleX(1.0300);">30</span>
<span class="t b g" style="top:337.78px;letter-spacing:1.810px;right:1905.80px;transform-origin:100% 50%;transform:scaleX(1.0700);">21</span>
<a class="t lk" style="top:337.78px;letter-spacing:1.010px;left:107.20px;transform-origin:0 50%;transform:scaleX(1.0300);">2021-12-15</a>
<span class="t" style="top:337.78px;letter-spacing:0.966px;right:1662.70px;transform-origin:100% 50%;transform:scaleX(1.0300);">24-207</span>
<a class="t vk" style="top:337.78px;left:350.30px;transform-origin:0 50%;transform:scaleX(0.9234);">CLE</a>
<a class="t vk" style="top:337.78px;left:442.00px;transform-origin:0 50%;transform:scaleX(0.9724);">HOU</a>
<span class="t" style="top:337.78px;letter-spacing:1.442px;left:559.90px;transform-origin:50% 50%;transform:translateX(-50%) scaleX(1.0300);">W (+35)</span>
<span class="t" style="top:337.78px;letter-spacing:0.749px;right:1343.50px;transform-origin:100% 50%;transform:scaleX(1.0300);">1</span>
<span class="t" style="top:337.78px;letter-spacing:1.271px;right:1262.50px;transform-origin:100% 50%;transform:scaleX(1.0300);">18:58</span>
<span class="t" style="top:337.78px;letter-spacing:0.749px;right:1217.40px;transform-origin:100% 50%;transform:scaleX(1.0300);">5</span>
<span class="t" style="top:337.78px;letter-spacing:0.749px;right:1153.50px;transform-origin:100% 50%;transform:scaleX(1.0300);">10</span>
<span class="t" style="top:337.78px;letter-spacing:0.909px;right:1077.90px;transform-origin:100% 50%;transform:scaleX(1.0300);">.500</span>
<span class="t" style="top:337.78px;letter-spacing:0.749px;right:1032.80px;transform-origin:100% 50%;transform:scaleX(1.0300);">2</span>
<span class="t" style="top:337.78px;letter-spacing:0.749px;right:969.00px;transform-origin:100% 50%;transform:scaleX(1.0300);">5</span>
<span class="t" style="top:337.78px;letter-spacing:0.909px;right:893.70px;transform-origin:100% 50%;transform:scaleX(1.0300);">.400</span>
<span class="t" style="top:337.78px;letter-spacing:0.749px;right:850.90px;transform-origin:100% 50%;transform:scaleX(1.0300);">0</span>
<span class="t" style="top:337.78px;letter-spacing:0.749px;right:790.50px;transform-origin:100% 50%;transform:scaleX(1.0300);">0</span>
<span class="t" style="top:337.78px;letter-spacing:0.749px;right:645.50px;transform-origin:100% 50%;transform:scaleX(1.0300);">0</span>
<span class="t" style="top:337.78px;letter-spacing:0.749px;right:577.70px;transform-origin:100% 50%;transform:scaleX(1.0300);">2</span>
<span class="t" style="top:337.78px;letter-spacing:0.749px;right:513.90px;transform-origin:100% 50%;transform:scaleX(1.0300);">2</span>
<span class="t" style="top:337.78px;letter-spacing:0.749px;right:451.70px;transform-origin:100% 50%;transform:scaleX(1.0300);">1</span>
<span class="t" style="top:337.78px;letter-spacing:0.749px;right:392.80px;transform-origin:100% 50%;transform:scaleX(1.0300);">0</span>
<span class="t" style="top:337.78px;letter-spacing:0.749px;right:331.10px;transform-origin:100% 50%;transform:scaleX(1.0300);">0</span>
<span class="t" style="top:337.78px;letter-spacing:0.749px;right:265.10px;transform-origin:100% 50%;transform:scaleX(1.0300);">1</span>
<span class="t" style="top:337.78px;letter-spacing:0.749px;right:221.50px;transform-origin:100% 50%;transform:scaleX(1.0300);">1</span>
<span class="t" style="top:337.78px;letter-spacing:0.749px;right:159.50px;transform-origin:100% 50%;transform:scaleX(1.0300);">12</span>
<span class="t" style="top:337.78px;letter-spacing:0.962px;right:75.10px;transform-origin:100% 50%;transform:scaleX(1.0300);">6.9</span>
<span class="t" style="top:337.78px;letter-spacing:1.858px;right:14.50px;transform-origin:100% 50%;transform:scaleX(1.0300);">+13</span>
<span class="t" style="top:382.93px;letter-spacing:0.749px;right:1951.30px;transform-origin:100% 50%;transform:scaleX(1.0300);">31</span>
<span class="t b g" style="top:382.93px;letter-spacing:1.810px;right:1905.80px;transform-origin:100% 50%;transform:scaleX(1.0700);">22</span>
<a class="t lk" style="top:382.93px;letter-spacing:1.010px;left:107.20px;transform-origin:0 50%;transform:scaleX(1.0300);">2021-12-18</a>
<span class="t" style="top:382.93px;letter-spacing:0.966px;right:1662.70px;transform-origin:100% 50%;transform:scaleX(1.0300);">24-210</span>
<a class="t vk" style="top:382.93px;left:350.30px;transform-origin:0 50%;transform:scaleX(0.9234);">CLE</a>
<span class="t" style="top:382.93px;left:417.75px;transform-origin:50% 50%;transform:translateX(-50%) scaleX(0.9377);">@</span>
<a class="t lk" style="top:382.93px;letter-spacing:0.126px;left:442.00px;transform-origin:0 50%;transform:scaleX(1.0300);">MIL</a>
<span class="t" style="top:382.93px;letter-spacing:1.442px;left:559.90px;transform-origin:50% 50%;transform:translateX(-50%) scaleX(1.0300);">W (+29)</span>
<span class="t" style="top:382.93px;letter-spacing:0.749px;right:1343.50px;transform-origin:100% 50%;transform:scaleX(1.0300);">1</span>
<span class="t" style="top:382.93px;letter-spacing:1.271px;right:1262.50px;transform-origin:100% 50%;transform:scaleX(1.0300);">29:10</span>
<span class="t" style="top:382.93px;letter-spacing:0.749px;right:1217.40px;transform-origin:100% 50%;transform:scaleX(1.0300);">3</span>
<span class="t" style="top:382.93px;letter-spacing:0.749px;right:1153.50px;transform-origin:100% 50%;transform:scaleX(1.0300);">14</span>
<span class="t" style="top:382.93px;letter-spacing:0.909px;right:1077.90px;transform-origin:100% 50%;transform:scaleX(1.0300);">.214</span>
<span class="t" style="top:382.93px;letter-spacing:0.749px;right:1032.80px;transform-origin:100% 50%;transform:scaleX(1.0300);">0</span>
<span class="t" style="top:382.93px;letter-spacing:0.749px;right:969.00px;transform-origin:100% 50%;transform:scaleX(1.0300);">7</span>
<span class="t" style="top:382.93px;letter-spacing:0.909px;right:893.70px;transform-origin:100% 50%;transform:scaleX(1.0300);">.000</span>
<span class="t" style="top:382.93px;letter-spacing:0.749px;right:850.90px;transform-origin:100% 50%;transform:scaleX(1.0300);">2</span>
<span class="t" style="top:382.93px;letter-spacing:0.749px;right:790.50px;transform-origin:100% 50%;transform:scaleX(1.0300);">3</span>
<span class="t" style="top:382.93px;letter-spacing:0.909px;right:711.10px;transform-origin:100% 50%;transform:scaleX(1.0300);">.667</span>
<span class="t" style="top:382.93px;letter-spacing:0.749px;right:645.50px;transform-origin:100% 50%;transform:scaleX(1.0300);">1</span>
<span class="t" style="top:382.93px;letter-spacing:0.749px;right:577.70px;transform-origin:100% 50%;transform:scaleX(1.0300);">1</span>
<span class="t" style="top:382.93px;letter-spacing:0.749px;right:513.90px;transform-origin:100% 50%;transform:scaleX(1.0300);">2</span>
<span class="t" style="top:382.93px;letter-spacing:0.749px;right:451.70px;transform-origin:100% 50%;transform:scaleX(1.0300);">2</span>
<span class="t" style="top:382.93px;letter-spacing:0.749px;right:392.80px;transform-origin:100% 50%;transform:scaleX(1.0300);">0</span>
<span class="t" style="top:382.93px;letter-spacing:0.749px;right:331.10px;transform-origin:100% 50%;transform:scaleX(1.0300);">0</span>
<span class="t" style="top:382.93px;letter-spacing:0.749px;right:265.10px;transform-origin:100% 50%;transform:scaleX(1.0300);">2</span>
<span class="t" style="top:382.93px;letter-spacing:0.749px;right:221.50px;transform-origin:100% 50%;transform:scaleX(1.0300);">1</span>
<span class="t" style="top:382.93px;letter-spacing:0.749px;right:159.50px;transform-origin:100% 50%;transform:scaleX(1.0300);">8</span>
<span class="t" style="top:382.93px;letter-spacing:1.235px;right:75.10px;transform-origin:100% 50%;transform:scaleX(1.0300);">-1.0</span>
<span class="t" style="top:382.93px;letter-spacing:1.858px;right:14.50px;transform-origin:100% 50%;transform:scaleX(1.0300);">+15</span>
<span class="t" style="top:428.08px;letter-spacing:0.749px;right:1951.30px;transform-origin:100% 50%;transform:scaleX(1.0300);">32</span>
<span class="t b g" style="top:428.08px;letter-spacing:1.810px;right:1905.80px;transform-origin:100% 50%;transform:scaleX(1.0700);">23</span>
<a class="t lk" style="top:428.08px;letter-spacing:1.010px;left:107.20px;transform-origin:0 50%;transform:scaleX(1.0300);">2021-12-22</a>
<span class="t" style="top:428.08px;letter-spacing:0.966px;right:1662.70px;transform-origin:100% 50%;transform:scaleX(1.0300);">24-214</span>
<a class="t vk" style="top:428.08px;left:350.30px;transform-origin:0 50%;transform:scaleX(0.9234);">CLE</a>
<span class="t" style="top:428.08px;left:417.75px;transform-origin:50% 50%;transform:translateX(-50%) scaleX(0.9377);">@</span>
<a class="t lk" style="top:428.08px;left:442.00px;transform-origin:0 50%;transform:scaleX(0.9723);">BOS</a>
<span class="t" style="top:428.08px;letter-spacing:1.114px;left:559.90px;transform-origin:50% 50%;transform:translateX(-50%) scaleX(1.0300);">L (-10)</span>
<span class="t" style="top:428.08px;letter-spacing:0.749px;right:1343.50px;transform-origin:100% 50%;transform:scaleX(1.0300);">1</span>
<span class="t" style="top:428.08px;letter-spacing:1.271px;right:1262.50px;transform-origin:100% 50%;transform:scaleX(1.0300);">32:57</span>
<span class="t" style="top:428.08px;letter-spacing:0.749px;right:1217.40px;transform-origin:100% 50%;transform:scaleX(1.0300);">2</span>
<span class="t" style="top:428.08px;letter-spacing:0.749px;right:1153.50px;transform-origin:100% 50%;transform:scaleX(1.0300);">12</span>
<span class="t" style="top:428.08px;letter-spacing:0.909px;right:1077.90px;transform-origin:100% 50%;transform:scaleX(1.0300);">.167</span>
<span class="t" style="top:428.08px;letter-spacing:0.749px;right:1032.80px;transform-origin:100% 50%;transform:scaleX(1.0300);">0</span>
<span class="t" style="top:428.08px;letter-spacing:0.749px;right:969.00px;transform-origin:100% 50%;transform:scaleX(1.0300);">5</span>
<span class="t" style="top:428.08px;letter-spacing:0.909px;right:893.70px;transform-origin:100% 50%;transform:scaleX(1.0300);">.000</span>
<span class="t" style="top:428.08px;letter-spacing:0.749px;right:850.90px;transform-origin:100% 50%;transform:scaleX(1.0300);">3</span>
<span class="t" style="top:428.08px;letter-spacing:0.749px;right:790.50px;transform-origin:100% 50%;transform:scaleX(1.0300);">3</span>
<span class="t" style="top:428.08px;letter-spacing:0.877px;right:711.10px;transform-origin:100% 50%;transform:scaleX(1.0300);">1.000</span>
<span class="t" style="top:428.08px;letter-spacing:0.749px;right:645.50px;transform-origin:100% 50%;transform:scaleX(1.0300);">3</span>
<span class="t" style="top:428.08px;letter-spacing:0.749px;right:577.70px;transform-origin:100% 50%;transform:scaleX(1.0300);">6</span>
<span class="t" style="top:428.08px;letter-spacing:0.749px;right:513.90px;transform-origin:100% 50%;transform:scaleX(1.0300);">9</span>
<span class="t" style="top:428.08px;letter-spacing:0.749px;right:451.70px;transform-origin:100% 50%;transform:scaleX(1.0300);">0</span>
<span class="t" style="top:428.08px;letter-spacing:0.749px;right:392.80px;transform-origin:100% 50%;transform:scaleX(1.0300);">0</span>
<span class="t" style="top:428.08px;letter-spacing:0.749px;right:331.10px;transform-origin:100% 50%;transform:scaleX(1.0300);">1</span>
<span class="t" style="top:428.08px;letter-spacing:0.749px;right:265.10px;transform-origin:100% 50%;transform:scaleX(1.0300);">1</span>
<span class="t" style="top:428.08px;letter-spacing:0.749px;right:221.50px;transform-origin:100% 50%;transform:scaleX(1.0300);">1</span>
<span class="t" style="top:428.08px;letter-spacing:0.749px;right:159.50px;transform-origin:100% 50%;transform:scaleX(1.0300);">7</span>
<span class="t" style="top:428.08px;letter-spacing:0.962px;right:75.10px;transform-origin:100% 50%;transform:scaleX(1.0300);">2.6</span>
<span class="t" style="top:428.08px;letter-spacing:1.184px;right:14.50px;transform-origin:100% 50%;transform:scaleX(1.0300);">-10</span>
<span class="t" style="top:473.23px;letter-spacing:0.749px;right:1951.30px;transform-origin:100% 50%;transform:scaleX(1.0300);">33</span>
<span class="t b g" style="top:473.23px;letter-spacing:1.810px;right:1905.80px;transform-origin:100% 50%;transform:scaleX(1.0700);">24</span>
<a class="t lk" style="top:473.23px;letter-spacing:1.010px;left:107.20px;transform-origin:0 50%;transform:scaleX(1.0300);">2021-12-26</a>
<span class="t" style="top:473.23px;letter-spacing:0.966px;right:1662.70px;transform-origin:100% 50%;transform:scaleX(1.0300);">24-218</span>
<a class="t vk" style="top:473.23px;left:350.30px;transform-origin:0 50%;transform:scaleX(0.9234);">CLE</a>
<a class="t lk" style="top:473.23px;left:442.00px;transform-origin:0 50%;transform:scaleX(0.9461);">TOR</a>
<span class="t" style="top:473.23px;letter-spacing:1.442px;left:559.90px;transform-origin:50% 50%;transform:translateX(-50%) scaleX(1.0300);">W (+45)</span>
<span class="t" style="top:473.23px;letter-spacing:0.749px;right:1343.50px;transform-origin:100% 50%;transform:scaleX(1.0300);">1</span>
<span class="t" style="top:473.23px;letter-spacing:1.271px;right:1262.50px;transform-origin:100% 50%;transform:scaleX(1.0300);">22:09</span>
<span class="t" style="top:473.23px;letter-spacing:0.749px;right:1217.40px;transform-origin:100% 50%;transform:scaleX(1.0300);">9</span>
<span class="t" style="top:473.23px;letter-spacing:0.749px;right:1153.50px;transform-origin:100% 50%;transform:scaleX(1.0300);">13</span>
<span class="t" style="top:473.23px;letter-spacing:0.909px;right:1077.90px;transform-origin:100% 50%;transform:scaleX(1.0300);">.692</span>
<span class="t" style="top:473.23px;letter-spacing:0.749px;right:1032.80px;transform-origin:100% 50%;transform:scaleX(1.0300);">1</span>
<span class="t" style="top:473.23px;letter-spacing:0.749px;right:969.00px;transform-origin:100% 50%;transform:scaleX(1.0300);">3</span>
<span class="t" style="top:473.23px;letter-spacing:0.909px;right:893.70px;transform-origin:100% 50%;transform:scaleX(1.0300);">.333</span>
<span class="t" style="top:473.23px;letter-spacing:0.749px;right:850.90px;transform-origin:100% 50%;transform:scaleX(1.0300);">1</span>
<span class="t" style="top:473.23px;letter-spacing:0.749px;right:790.50px;transform-origin:100% 50%;transform:scaleX(1.0300);">1</span>
<span class="t" style="top:473.23px;letter-spacing:0.877px;right:711.10px;transform-origin:100% 50%;transform:scaleX(1.0300);">1.000</span>
<span class="t" style="top:473.23px;letter-spacing:0.749px;right:645.50px;transform-origin:100% 50%;transform:scaleX(1.0300);">2</span>
<span class="t" style="top:473.23px;letter-spacing:0.749px;right:577.70px;transform-origin:100% 50%;transform:scaleX(1.0300);">5</span>
<span class="t" style="top:473.23px;letter-spacing:0.749px;right:513.90px;transform-origin:100% 50%;transform:scaleX(1.0300);">7</span>
<span class="t" style="top:473.23px;letter-spacing:0.749px;right:451.70px;transform-origin:100% 50%;transform:scaleX(1.0300);">1</span>
<span class="t" style="top:473.23px;letter-spacing:0.749px;right:392.80px;transform-origin:100% 50%;transform:scaleX(1.0300);">0</span>
<span class="t" style="top:473.23px;letter-spacing:0.749px;right:331.10px;transform-origin:100% 50%;transform:scaleX(1.0300);">1</span>
<span class="t" style="top:473.23px;letter-spacing:0.749px;right:265.10px;transform-origin:100% 50%;transform:scaleX(1.0300);">2</span>
<span class="t" style="top:473.23px;letter-spacing:0.749px;right:221.50px;transform-origin:100% 50%;transform:scaleX(1.0300);">2</span>
<span class="t" style="top:473.23px;letter-spacing:0.749px;right:159.50px;transform-origin:100% 50%;transform:scaleX(1.0300);">20</span>
<span class="t" style="top:473.23px;letter-spacing:0.909px;right:75.10px;transform-origin:100% 50%;transform:scaleX(1.0300);">16.0</span>
<span class="t" style="top:473.23px;letter-spacing:1.858px;right:14.50px;transform-origin:100% 50%;transform:scaleX(1.0300);">+17</span>
<span class="t" style="top:518.38px;letter-spacing:0.749px;right:1951.30px;transform-origin:100% 50%;transform:scaleX(1.0300);">34</span>
<span class="t b g" style="top:518.38px;letter-spacing:1.810px;right:1905.80px;transform-origin:100% 50%;transform:scaleX(1.0700);">25</span>
<a class="t lk" style="top:518.38px;letter-spacing:1.010px;left:107.20px;transform-origin:0 50%;transform:scaleX(1.0300);">2021-12-28</a>
<span class="t" style="top:518.38px;letter-spacing:0.966px;right:1662.70px;transform-origin:100% 50%;transform:scaleX(1.0300);">24-220</span>
<a class="t vk" style="top:518.38px;left:350.30px;transform-origin:0 50%;transform:scaleX(0.9234);">CLE</a>
<span class="t" style="top:518.38px;left:417.75px;transform-origin:50% 50%;transform:translateX(-50%) scaleX(0.9377);">@</span>
<a class="t lk" style="top:518.38px;left:442.00px;transform-origin:0 50%;transform:scaleX(0.9392);">NOP</a>
<span class="t" style="top:518.38px;letter-spacing:1.175px;left:559.90px;transform-origin:50% 50%;transform:translateX(-50%) scaleX(1.0300);">L (-4)</span>
<span class="t" style="top:518.38px;letter-spacing:0.749px;right:1343.50px;transform-origin:100% 50%;transform:scaleX(1.0300);">1</span>
<span class="t" style="top:518.38px;letter-spacing:1.271px;right:1262.50px;transform-origin:100% 50%;transform:scaleX(1.0300);">30:30</span>
<span class="t" style="top:518.38px;letter-spacing:0.749px;right:1217.40px;transform-origin:100% 50%;transform:scaleX(1.0300);">6</span>
<span class="t" style="top:518.38px;letter-spacing:0.749px;right:1153.50px;transform-origin:100% 50%;transform:scaleX(1.0300);">15</span>
<span class="t" style="top:518.38px;letter-spacing:0.909px;right:1077.90px;transform-origin:100% 50%;transform:scaleX(1.0300);">.400</span>
<span class="t" style="top:518.38px;letter-spacing:0.749px;right:1032.80px;transform-origin:100% 50%;transform:scaleX(1.0300);">0</span>
<span class="t" style="top:518.38px;letter-spacing:0.749px;right:969.00px;transform-origin:100% 50%;transform:scaleX(1.0300);">4</span>
<span class="t" style="top:518.38px;letter-spacing:0.909px;right:893.70px;transform-origin:100% 50%;transform:scaleX(1.0300);">.000</span>
<span class="t" style="top:518.38px;letter-spacing:0.749px;right:850.90px;transform-origin:100% 50%;transform:scaleX(1.0300);">2</span>
<span class="t" style="top:518.38px;letter-spacing:0.749px;right:790.50px;transform-origin:100% 50%;transform:scaleX(1.0300);">2</span>
<span class="t" style="top:518.38px;letter-spacing:0.877px;right:711.10px;transform-origin:100% 50%;transform:scaleX(1.0300);">1.000</span>
<span class="t" style="top:518.38px;letter-spacing:0.749px;right:645.50px;transform-origin:100% 50%;transform:scaleX(1.0300);">1</span>
<span class="t" style="top:518.38px;letter-spacing:0.749px;right:577.70px;transform-origin:100% 50%;transform:scaleX(1.0300);">4</span>
<span class="t" style="top:518.38px;letter-spacing:0.749px;right:513.90px;transform-origin:100% 50%;transform:scaleX(1.0300);">5</span>
<span class="t" style="top:518.38px;letter-spacing:0.749px;right:451.70px;transform-origin:100% 50%;transform:scaleX(1.0300);">2</span>
<span class="t" style="top:518.38px;letter-spacing:0.749px;right:392.80px;transform-origin:100% 50%;transform:scaleX(1.0300);">2</span>
<span class="t" style="top:518.38px;letter-spacing:0.749px;right:331.10px;transform-origin:100% 50%;transform:scaleX(1.0300);">0</span>
<span class="t" style="top:518.38px;letter-spacing:0.749px;right:265.10px;transform-origin:100% 50%;transform:scaleX(1.0300);">1</span>
<span class="t" style="top:518.38px;letter-spacing:0.749px;right:221.50px;transform-origin:100% 50%;transform:scaleX(1.0300);">4</span>
<span class="t" style="top:518.38px;letter-spacing:0.749px;right:159.50px;transform-origin:100% 50%;transform:scaleX(1.0300);">14</span>
<span class="t" style="top:518.38px;letter-spacing:0.962px;right:75.10px;transform-origin:100% 50%;transform:scaleX(1.0300);">8.6</span>
<span class="t" style="top:518.38px;letter-spacing:2.413px;right:14.50px;transform-origin:100% 50%;transform:scaleX(1.0300);">+4</span>
<span class="t" style="top:563.53px;letter-spacing:0.749px;right:1951.30px;transform-origin:100% 50%;transform:scaleX(1.0300);">35</span>
<span class="t b g" style="top:563.53px;letter-spacing:1.810px;right:1905.80px;transform-origin:100% 50%;transform:scaleX(1.0700);">26</span>
<a class="t lk" style="top:563.53px;letter-spacing:1.010px;left:107.20px;transform-origin:0 50%;transform:scaleX(1.0300);">2021-12-30</a>
<span class="t" style="top:563.53px;letter-spacing:0.966px;right:1662.70px;transform-origin:100% 50%;transform:scaleX(1.0300);">24-222</span>
<a class="t vk" style="top:563.53px;left:350.30px;transform-origin:0 50%;transform:scaleX(0.9234);">CLE</a>
<span class="t" style="top:563.53px;left:417.75px;transform-origin:50% 50%;transform:translateX(-50%) scaleX(0.9377);">@</span>
<a class="t lk" style="top:563.53px;left:442.00px;transform-origin:0 50%;transform:scaleX(0.9850);">WAS</a>
<span class="t" style="top:563.53px;letter-spacing:1.114px;left:559.90px;transform-origin:50% 50%;transform:translateX(-50%) scaleX(1.0300);">L (-17)</span>
<span class="t" style="top:563.53px;letter-spacing:0.749px;right:1343.50px;transform-origin:100% 50%;transform:scaleX(1.0300);">1</span>
<span class="t" style="top:563.53px;letter-spacing:1.271px;right:1262.50px;transform-origin:100% 50%;transform:scaleX(1.0300);">26:14</span>
<span class="t" style="top:563.53px;letter-spacing:0.749px;right:1217.40px;transform-origin:100% 50%;transform:scaleX(1.0300);">4</span>
<span class="t" style="top:563.53px;letter-spacing:0.749px;right:1153.50px;transform-origin:100% 50%;transform:scaleX(1.0300);">10</span>
<span class="t" style="top:563.53px;letter-spacing:0.909px;right:1077.90px;transform-origin:100% 50%;transform:scaleX(1.0300);">.400</span>
<span class="t" style="top:563.53px;letter-spacing:0.749px;right:1032.80px;transform-origin:100% 50%;transform:scaleX(1.0300);">1</span>
<span class="t" style="top:563.53px;letter-spacing:0.749px;right:969.00px;transform-origin:100% 50%;transform:scaleX(1.0300);">4</span>
<span class="t" style="top:563.53px;letter-spacing:0.909px;right:893.70px;transform-origin:100% 50%;transform:scaleX(1.0300);">.250</span>
<span class="t" style="top:563.53px;letter-spacing:0.749px;right:850.90px;transform-origin:100% 50%;transform:scaleX(1.0300);">2</span>
<span class="t" style="top:563.53px;letter-spacing:0.749px;right:790.50px;transform-origin:100% 50%;transform:scaleX(1.0300);">2</span>
<span class="t" style="top:563.53px;letter-spacing:0.877px;right:711.10px;transform-origin:100% 50%;transform:scaleX(1.0300);">1.000</span>
<span class="t" style="top:563.53px;letter-spacing:0.749px;right:645.50px;transform-origin:100% 50%;transform:scaleX(1.0300);">2</span>
<span class="t" style="top:563.53px;letter-spacing:0.749px;right:577.70px;transform-origin:100% 50%;transform:scaleX(1.0300);">6</span>
<span class="t" style="top:563.53px;letter-spacing:0.749px;right:513.90px;transform-origin:100% 50%;transform:scaleX(1.0300);">8</span>
<span class="t" style="top:563.53px;letter-spacing:0.749px;right:451.70px;transform-origin:100% 50%;transform:scaleX(1.0300);">4</span>
<span class="t" style="top:563.53px;letter-spacing:0.749px;right:392.80px;transform-origin:100% 50%;transform:scaleX(1.0300);">1</span>
<span class="t" style="top:563.53px;letter-spacing:0.749px;right:331.10px;transform-origin:100% 50%;transform:scaleX(1.0300);">1</span>
<span class="t" style="top:563.53px;letter-spacing:0.749px;right:265.10px;transform-origin:100% 50%;transform:scaleX(1.0300);">2</span>
<span class="t" style="top:563.53px;letter-spacing:0.749px;right:221.50px;transform-origin:100% 50%;transform:scaleX(1.0300);">3</span>
<span class="t" style="top:563.53px;letter-spacing:0.749px;right:159.50px;transform-origin:100% 50%;transform:scaleX(1.0300);">11</span>
<span class="t" style="top:563.53px;letter-spacing:0.909px;right:75.10px;transform-origin:100% 50%;transform:scaleX(1.0300);">10.1</span>
<span class="t" style="top:563.53px;letter-spacing:1.184px;right:14.50px;transform-origin:100% 50%;transform:scaleX(1.0300);">-12</span>
<span class="t" style="top:608.68px;letter-spacing:0.749px;right:1951.30px;transform-origin:100% 50%;transform:scaleX(1.0300);">36</span>
<span class="t b g" style="top:608.68px;letter-spacing:1.810px;right:1905.80px;transform-origin:100% 50%;transform:scaleX(1.0700);">27</span>
<a class="t lk" style="top:608.68px;letter-spacing:1.010px;left:107.20px;transform-origin:0 50%;transform:scaleX(1.0300);">2021-12-31</a>
<span class="t" style="top:608.68px;letter-spacing:0.966px;right:1662.70px;transform-origin:100% 50%;transform:scaleX(1.0300);">24-223</span>
<a class="t vk" style="top:608.68px;left:350.30px;transform-origin:0 50%;transform:scaleX(0.9234);">CLE</a>
<a class="t lk" style="top:608.68px;left:442.00px;transform-origin:0 50%;transform:scaleX(0.9638);">ATL</a>
<span class="t" style="top:608.68px;letter-spacing:1.175px;left:559.90px;transform-origin:50% 50%;transform:translateX(-50%) scaleX(1.0300);">L (-3)</span>
<span class="t" style="top:608.68px;letter-spacing:0.749px;right:1343.50px;transform-origin:100% 50%;transform:scaleX(1.0300);">1</span>
<span class="t" style="top:608.68px;letter-spacing:1.271px;right:1262.50px;transform-origin:100% 50%;transform:scaleX(1.0300);">30:33</span>
<span class="t" style="top:608.68px;letter-spacing:0.749px;right:1217.40px;transform-origin:100% 50%;transform:scaleX(1.0300);">4</span>
<span class="t" style="top:608.68px;letter-spacing:0.749px;right:1153.50px;transform-origin:100% 50%;transform:scaleX(1.0300);">10</span>
<span class="t" style="top:608.68px;letter-spacing:0.909px;right:1077.90px;transform-origin:100% 50%;transform:scaleX(1.0300);">.400</span>
<span class="t" style="top:608.68px;letter-spacing:0.749px;right:1032.80px;transform-origin:100% 50%;transform:scaleX(1.0300);">0</span>
<span class="t" style="top:608.68px;letter-spacing:0.749px;right:969.00px;transform-origin:100% 50%;transform:scaleX(1.0300);">2</span>
<span class="t" style="top:608.68px;letter-spacing:0.909px;right:893.70px;transform-origin:100% 50%;transform:scaleX(1.0300);">.000</span>
<span class="t" style="top:608.68px;letter-spacing:0.749px;right:850.90px;transform-origin:100% 50%;transform:scaleX(1.0300);">0</span>
<span class="t" style="top:608.68px;letter-spacing:0.749px;right:790.50px;transform-origin:100% 50%;transform:scaleX(1.0300);">0</span>
<span class="t" style="top:608.68px;letter-spacing:0.749px;right:645.50px;transform-origin:100% 50%;transform:scaleX(1.0300);">0</span>
<span class="t" style="top:608.68px;letter-spacing:0.749px;right:577.70px;transform-origin:100% 50%;transform:scaleX(1.0300);">5</span>
<span class="t" style="top:608.68px;letter-spacing:0.749px;right:513.90px;transform-origin:100% 50%;transform:scaleX(1.0300);">5</span>
<span class="t" style="top:608.68px;letter-spacing:0.749px;right:451.70px;transform-origin:100% 50%;transform:scaleX(1.0300);">2</span>
<span class="t" style="top:608.68px;letter-spacing:0.749px;right:392.80px;transform-origin:100% 50%;transform:scaleX(1.0300);">0</span>
<span class="t" style="top:608.68px;letter-spacing:0.749px;right:331.10px;transform-origin:100% 50%;transform:scaleX(1.0300);">1</span>
<span class="t" style="top:608.68px;letter-spacing:0.749px;right:265.10px;transform-origin:100% 50%;transform:scaleX(1.0300);">2</span>
<span class="t" style="top:608.68px;letter-spacing:0.749px;right:221.50px;transform-origin:100% 50%;transform:scaleX(1.0300);">2</span>
<span class="t" style="top:608.68px;letter-spacing:0.749px;right:159.50px;transform-origin:100% 50%;transform:scaleX(1.0300);">8</span>
<span class="t" style="top:608.68px;letter-spacing:0.962px;right:75.10px;transform-origin:100% 50%;transform:scaleX(1.0300);">3.4</span>
<span class="t" style="top:608.68px;letter-spacing:1.184px;right:14.50px;transform-origin:100% 50%;transform:scaleX(1.0300);">-11</span>
<span class="t" style="top:653.83px;letter-spacing:0.749px;right:1951.30px;transform-origin:100% 50%;transform:scaleX(1.0300);">37</span>
<span class="t b g" style="top:653.83px;letter-spacing:1.810px;right:1905.80px;transform-origin:100% 50%;transform:scaleX(1.0700);">28</span>
<a class="t lk" style="top:653.83px;letter-spacing:1.010px;left:107.20px;transform-origin:0 50%;transform:scaleX(1.0300);">2022-01-02</a>
<span class="t" style="top:653.83px;letter-spacing:0.966px;right:1662.70px;transform-origin:100% 50%;transform:scaleX(1.0300);">24-225</span>
<a class="t vk" style="top:653.83px;left:350.30px;transform-origin:0 50%;transform:scaleX(0.9234);">CLE</a>
<a class="t lk" style="top:653.83px;letter-spacing:0.559px;left:442.00px;transform-origin:0 50%;transform:scaleX(1.0300);">IND</a>
<span class="t" style="top:653.83px;letter-spacing:1.558px;left:559.90px;transform-origin:50% 50%;transform:translateX(-50%) scaleX(1.0300);">W (+4)</span>
<span class="t" style="top:653.83px;letter-spacing:0.749px;right:1343.50px;transform-origin:100% 50%;transform:scaleX(1.0300);">1</span>
<span class="t" style="top:653.83px;letter-spacing:1.271px;right:1262.50px;transform-origin:100% 50%;transform:scaleX(1.0300);">33:37</span>
<span class="t" style="top:653.83px;letter-spacing:0.749px;right:1217.40px;transform-origin:100% 50%;transform:scaleX(1.0300);">5</span>
<span class="t" style="top:653.83px;letter-spacing:0.749px;right:1153.50px;transform-origin:100% 50%;transform:scaleX(1.0300);">12</span>
<span class="t" style="top:653.83px;letter-spacing:0.909px;right:1077.90px;transform-origin:100% 50%;transform:scaleX(1.0300);">.417</span>
<span class="t" style="top:653.83px;letter-spacing:0.749px;right:1032.80px;transform-origin:100% 50%;transform:scaleX(1.0300);">2</span>
<span class="t" style="top:653.83px;letter-spacing:0.749px;right:969.00px;transform-origin:100% 50%;transform:scaleX(1.0300);">6</span>
<span class="t" style="top:653.83px;letter-spacing:0.909px;right:893.70px;transform-origin:100% 50%;transform:scaleX(1.0300);">.333</span>
<span class="t" style="top:653.83px;letter-spacing:0.749px;right:850.90px;transform-origin:100% 50%;transform:scaleX(1.0300);">0</span>
<span class="t" style="top:653.83px;letter-spacing:0.749px;right:790.50px;transform-origin:100% 50%;transform:scaleX(1.0300);">0</span>
<span class="t" style="top:653.83px;letter-spacing:0.749px;right:645.50px;transform-origin:100% 50%;transform:scaleX(1.0300);">2</span>
<span class="t" style="top:653.83px;letter-spacing:0.749px;right:577.70px;transform-origin:100% 50%;transform:scaleX(1.0300);">4</span>
<span class="t" style="top:653.83px;letter-spacing:0.749px;right:513.90px;transform-origin:100% 50%;transform:scaleX(1.0300);">6</span>
<span class="t" style="top:653.83px;letter-spacing:0.749px;right:451.70px;transform-origin:100% 50%;transform:scaleX(1.0300);">2</span>
<span class="t" style="top:653.83px;letter-spacing:0.749px;right:392.80px;transform-origin:100% 50%;transform:scaleX(1.0300);">0</span>
<span class="t" style="top:653.83px;letter-spacing:0.749px;right:331.10px;transform-origin:100% 50%;transform:scaleX(1.0300);">1</span>
<span class="t" style="top:653.83px;letter-spacing:0.749px;right:265.10px;transform-origin:100% 50%;transform:scaleX(1.0300);">0</span>
<span class="t" style="top:653.83px;letter-spacing:0.749px;right:221.50px;transform-origin:100% 50%;transform:scaleX(1.0300);">2</span>
<span class="t" style="top:653.83px;letter-spacing:0.749px;right:159.50px;transform-origin:100% 50%;transform:scaleX(1.0300);">12</span>
<span class="t" style="top:653.83px;letter-spacing:0.962px;right:75.10px;transform-origin:100% 50%;transform:scaleX(1.0300);">9.5</span>
<span class="t" style="top:653.83px;letter-spacing:1.401px;right:14.50px;transform-origin:100% 50%;transform:scaleX(1.0300);">-3</span>
<span class="t" style="top:698.98px;letter-spacing:0.749px;right:1951.30px;transform-origin:100% 50%;transform:scaleX(1.0300);">38</span>
<span class="t b g" style="top:698.98px;letter-spacing:1.810px;right:1905.80px;transform-origin:100% 50%;transform:scaleX(1.0700);">29</span>
<a class="t lk" style="top:698.98px;letter-spacing:1.010px;left:107.20px;transform-origin:0 50%;transform:scaleX(1.0300);">2022-01-04</a>
<span class="t" style="top:698.98px;letter-spacing:0.966px;right:1662.70px;transform-origin:100% 50%;transform:scaleX(1.0300);">24-227</span>
<a class="t vk" style="top:698.98px;left:350.30px;transform-origin:0 50%;transform:scaleX(0.9234);">CLE</a>
<a class="t lk" style="top:698.98px;left:442.00px;transform-origin:0 50%;transform:scaleX(0.9458);">MEM</a>
<span class="t" style="top:698.98px;letter-spacing:1.175px;left:559.90px;transform-origin:50% 50%;transform:translateX(-50%) scaleX(1.0300);">L (-4)</span>
<span class="t" style="top:698.98px;letter-spacing:0.749px;right:1343.50px;transform-origin:100% 50%;transform:scaleX(1.0300);">1</span>
<span class="t" style="top:698.98px;letter-spacing:1.271px;right:1262.50px;transform-origin:100% 50%;transform:scaleX(1.0300);">36:19</span>
<span class="t" style="top:698.98px;letter-spacing:0.749px;right:1217.40px;transform-origin:100% 50%;transform:scaleX(1.0300);">5</span>
<span class="t" style="top:698.98px;letter-spacing:0.749px;right:1153.50px;transform-origin:100% 50%;transform:scaleX(1.0300);">11</span>
<span class="t" style="top:698.98px;letter-spacing:0.909px;right:1077.90px;transform-origin:100% 50%;transform:scaleX(1.0300);">.455</span>
<span class="t" style="top:698.98px;letter-spacing:0.749px;right:1032.80px;transform-origin:100% 50%;transform:scaleX(1.0300);">1</span>
<span class="t" style="top:698.98px;letter-spacing:0.749px;right:969.00px;transform-origin:100% 50%;transform:scaleX(1.0300);">5</span>
<span class="t" style="top:698.98px;letter-spacing:0.909px;right:893.70px;transform-origin:100% 50%;transform:scaleX(1.0300);">.200</span>
<span class="t" style="top:698.98px;letter-spacing:0.749px;right:850.90px;transform-origin:100% 50%;transform:scaleX(1.0300);">2</span>
<span class="t" style="top:698.98px;letter-spacing:0.749px;right:790.50px;transform-origin:100% 50%;transform:scaleX(1.0300);">2</span>
<span class="t" style="top:698.98px;letter-spacing:0.877px;right:711.10px;transform-origin:100% 50%;transform:scaleX(1.0300);">1.000</span>
<span class="t" style="top:698.98px;letter-spacing:0.749px;right:645.50px;transform-origin:100% 50%;transform:scaleX(1.0300);">1</span>
<span class="t" style="top:698.98px;letter-spacing:0.749px;right:577.70px;transform-origin:100% 50%;transform:scaleX(1.0300);">6</span>
<span class="t" style="top:698.98px;letter-spacing:0.749px;right:513.90px;transform-origin:100% 50%;transform:scaleX(1.0300);">7</span>
<span class="t" style="top:698.98px;letter-spacing:0.749px;right:451.70px;transform-origin:100% 50%;transform:scaleX(1.0300);">5</span>
<span class="t" style="top:698.98px;letter-spacing:0.749px;right:392.80px;transform-origin:100% 50%;transform:scaleX(1.0300);">0</span>
<span class="t" style="top:698.98px;letter-spacing:0.749px;right:331.10px;transform-origin:100% 50%;transform:scaleX(1.0300);">1</span>
<span class="t" style="top:698.98px;letter-spacing:0.749px;right:265.10px;transform-origin:100% 50%;transform:scaleX(1.0300);">1</span>
<span class="t" style="top:698.98px;letter-spacing:0.749px;right:221.50px;transform-origin:100% 50%;transform:scaleX(1.0300);">3</span>
<span class="t" style="top:698.98px;letter-spacing:0.749px;right:159.50px;transform-origin:100% 50%;transform:scaleX(1.0300);">13</span>
<span class="t" style="top:698.98px;letter-spacing:0.909px;right:75.10px;transform-origin:100% 50%;transform:scaleX(1.0300);">11.8</span>
<span class="t" style="top:698.98px;letter-spacing:1.858px;right:14.50px;transform-origin:100% 50%;transform:scaleX(1.0300);">+10</span>
<span class="t" style="top:744.13px;letter-spacing:0.749px;right:1951.30px;transform-origin:100% 50%;transform:scaleX(1.0300);">39</span>
<span class="t b g" style="top:744.13px;letter-spacing:1.810px;right:1905.80px;transform-origin:100% 50%;transform:scaleX(1.0700);">30</span>
<a class="t lk" style="top:744.13px;letter-spacing:1.010px;left:107.20px;transform-origin:0 50%;transform:scaleX(1.0300);">2022-01-07</a>
<span class="t" style="top:744.13px;letter-spacing:0.966px;right:1662.70px;transform-origin:100% 50%;transform:scaleX(1.0300);">24-230</span>
<a class="t vk" style="top:744.13px;left:350.30px;transform-origin:0 50%;transform:scaleX(0.9234);">CLE</a>
<span class="t" style="top:744.13px;left:417.75px;transform-origin:50% 50%;transform:translateX(-50%) scaleX(0.9377);">@</span>
<a class="t lk" style="top:744.13px;left:442.00px;transform-origin:0 50%;transform:scaleX(0.9159);">POR</a>
<span class="t" style="top:744.13px;letter-spacing:1.442px;left:559.90px;transform-origin:50% 50%;transform:translateX(-50%) scaleX(1.0300);">W (+13)</span>
<span class="t" style="top:744.13px;letter-spacing:0.749px;right:1343.50px;transform-origin:100% 50%;transform:scaleX(1.0300);">1</span>
<span class="t" style="top:744.13px;letter-spacing:1.271px;right:1262.50px;transform-origin:100% 50%;transform:scaleX(1.0300);">33:24</span>
<span class="t" style="top:744.13px;letter-spacing:0.749px;right:1217.40px;transform-origin:100% 50%;transform:scaleX(1.0300);">4</span>
<span class="t" style="top:744.13px;letter-spacing:0.749px;right:1153.50px;transform-origin:100% 50%;transform:scaleX(1.0300);">9</span>
<span class="t" style="top:744.13px;letter-spacing:0.909px;right:1077.90px;transform-origin:100% 50%;transform:scaleX(1.0300);">.444</span>
<span class="t" style="top:744.13px;letter-spacing:0.749px;right:1032.80px;transform-origin:100% 50%;transform:scaleX(1.0300);">2</span>
<span class="t" style="top:744.13px;letter-spacing:0.749px;right:969.00px;transform-origin:100% 50%;transform:scaleX(1.0300);">6</span>
<span class="t" style="top:744.13px;letter-spacing:0.909px;right:893.70px;transform-origin:100% 50%;transform:scaleX(1.0300);">.333</span>
<span class="t" style="top:744.13px;letter-spacing:0.749px;right:850.90px;transform-origin:100% 50%;transform:scaleX(1.0300);">5</span>
<span class="t" style="top:744.13px;letter-spacing:0.749px;right:790.50px;transform-origin:100% 50%;transform:scaleX(1.0300);">6</span>
<span class="t" style="top:744.13px;letter-spacing:0.909px;right:711.10px;transform-origin:100% 50%;transform:scaleX(1.0300);">.833</span>
<span class="t" style="top:744.13px;letter-spacing:0.749px;right:645.50px;transform-origin:100% 50%;transform:scaleX(1.0300);">0</span>
<span class="t" style="top:744.13px;letter-spacing:0.749px;right:577.70px;transform-origin:100% 50%;transform:scaleX(1.0300);">1</span>
<span class="t" style="top:744.13px;letter-spacing:0.749px;right:513.90px;transform-origin:100% 50%;transform:scaleX(1.0300);">1</span>
<span class="t" style="top:744.13px;letter-spacing:0.749px;right:451.70px;transform-origin:100% 50%;transform:scaleX(1.0300);">5</span>
<span class="t" style="top:744.13px;letter-spacing:0.749px;right:392.80px;transform-origin:100% 50%;transform:scaleX(1.0300);">1</span>
<span class="t" style="top:744.13px;letter-spacing:0.749px;right:331.10px;transform-origin:100% 50%;transform:scaleX(1.0300);">1</span>
<span class="t" style="top:744.13px;letter-spacing:0.749px;right:265.10px;transform-origin:100% 50%;transform:scaleX(1.0300);">0</span>
<span class="t" style="top:744.13px;letter-spacing:0.749px;right:221.50px;transform-origin:100% 50%;transform:scaleX(1.0300);">2</span>
<span class="t" style="top:744.13px;letter-spacing:0.749px;right:159.50px;transform-origin:100% 50%;transform:scaleX(1.0300);">15</span>
<span class="t" style="top:744.13px;letter-spacing:0.909px;right:75.10px;transform-origin:100% 50%;transform:scaleX(1.0300);">14.6</span>
<span class="t" style="top:744.13px;letter-spacing:1.858px;right:14.50px;transform-origin:100% 50%;transform:scaleX(1.0300);">+13</span>
<span class="t" style="top:789.28px;letter-spacing:0.749px;right:1951.30px;transform-origin:100% 50%;transform:scaleX(1.0300);">40</span>
<span class="t b g" style="top:789.28px;letter-spacing:1.810px;right:1905.80px;transform-origin:100% 50%;transform:scaleX(1.0700);">31</span>
<a class="t lk" style="top:789.28px;letter-spacing:1.010px;left:107.20px;transform-origin:0 50%;transform:scaleX(1.0300);">2022-01-09</a>
<span class="t" style="top:789.28px;letter-spacing:0.966px;right:1662.70px;transform-origin:100% 50%;transform:scaleX(1.0300);">24-232</span>
<a class="t vk" style="top:789.28px;left:350.30px;transform-origin:0 50%;transform:scaleX(0.9234);">CLE</a>
<span class="t" style="top:789.28px;left:417.75px;transform-origin:50% 50%;transform:translateX(-50%) scaleX(0.9377);">@</span>
<a class="t lk" style="top:789.28px;left:442.00px;transform-origin:0 50%;transform:scaleX(0.9755);">GSW</a>
<span class="t" style="top:789.28px;letter-spacing:1.114px;left:559.90px;transform-origin:50% 50%;transform:translateX(-50%) scaleX(1.0300);">L (-14)</span>
<span class="t" style="top:789.28px;letter-spacing:0.749px;right:1343.50px;transform-origin:100% 50%;transform:scaleX(1.0300);">1</span>
<span class="t" style="top:789.28px;letter-spacing:1.271px;right:1262.50px;transform-origin:100% 50%;transform:scaleX(1.0300);">29:06</span>
<span class="t" style="top:789.28px;letter-spacing:0.749px;right:1217.40px;transform-origin:100% 50%;transform:scaleX(1.0300);">2</span>
<span class="t" style="top:789.28px;letter-spacing:0.749px;right:1153.50px;transform-origin:100% 50%;transform:scaleX(1.0300);">6</span>
<span class="t" style="top:789.28px;letter-spacing:0.909px;right:1077.90px;transform-origin:100% 50%;transform:scaleX(1.0300);">.333</span>
<span class="t" style="top:789.28px;letter-spacing:0.749px;right:1032.80px;transform-origin:100% 50%;transform:scaleX(1.0300);">1</span>
<span class="t" style="top:789.28px;letter-spacing:0.749px;right:969.00px;transform-origin:100% 50%;transform:scaleX(1.0300);">3</span>
<span class="t" style="top:789.28px;letter-spacing:0.909px;right:893.70px;transform-origin:100% 50%;transform:scaleX(1.0300);">.333</span>
<span class="t" style="top:789.28px;letter-spacing:0.749px;right:850.90px;transform-origin:100% 50%;transform:scaleX(1.0300);">4</span>
<span class="t" style="top:789.28px;letter-spacing:0.749px;right:790.50px;transform-origin:100% 50%;transform:scaleX(1.0300);">4</span>
<span class="t" style="top:789.28px;letter-spacing:0.877px;right:711.10px;transform-origin:100% 50%;transform:scaleX(1.0300);">1.000</span>
<span class="t" style="top:789.28px;letter-spacing:0.749px;right:645.50px;transform-origin:100% 50%;transform:scaleX(1.0300);">1</span>
<span class="t" style="top:789.28px;letter-spacing:0.749px;right:577.70px;transform-origin:100% 50%;transform:scaleX(1.0300);">5</span>
<span class="t" style="top:789.28px;letter-spacing:0.749px;right:513.90px;transform-origin:100% 50%;transform:scaleX(1.0300);">6</span>
<span class="t" style="top:789.28px;letter-spacing:0.749px;right:451.70px;transform-origin:100% 50%;transform:scaleX(1.0300);">2</span>
<span class="t" style="top:789.28px;letter-spacing:0.749px;right:392.80px;transform-origin:100% 50%;transform:scaleX(1.0300);">1</span>
<span class="t" style="top:789.28px;letter-spacing:0.749px;right:331.10px;transform-origin:100% 50%;transform:scaleX(1.0300);">0</span>
<span class="t" style="top:789.28px;letter-spacing:0.749px;right:265.10px;transform-origin:100% 50%;transform:scaleX(1.0300);">0</span>
<span class="t" style="top:789.28px;letter-spacing:0.749px;right:221.50px;transform-origin:100% 50%;transform:scaleX(1.0300);">1</span>
<span class="t" style="top:789.28px;letter-spacing:0.749px;right:159.50px;transform-origin:100% 50%;transform:scaleX(1.0300);">9</span>
<span class="t" style="top:789.28px;letter-spacing:0.962px;right:75.10px;transform-origin:100% 50%;transform:scaleX(1.0300);">9.8</span>
<span class="t" style="top:789.28px;letter-spacing:1.401px;right:14.50px;transform-origin:100% 50%;transform:scaleX(1.0300);">-3</span>
</div>
<div id="modal"></div>
<div id="mlines">
<svg id="closex" width="60" height="60" viewBox="0 0 60 60" style="left:1811.5px;top:10.8px"><path d="M15.1 14.8 L44.9 45.2 M44.9 14.8 L15.1 45.2" stroke="#d08c89" stroke-width="8.3" fill="none"/></svg>
<svg id="redbox" width="2000" height="839" viewBox="0 0 2000 839"><rect x="114.55" y="75.45" width="1746.8" height="218" rx="1.5" ry="1.5" fill="none" stroke="#ff2600" stroke-width="6.3"/></svg>
<div id="mhead" style="left:121.50px;top:153.40px;width:1715.90px;height:44.80px"></div>
<div class="mvd" style="left:268.80px;top:153.40px;height:89.90px"></div>
<div class="mvd" style="left:417.70px;top:153.40px;height:89.90px"></div>
<div class="mvd" style="left:458.50px;top:153.40px;height:89.90px"></div>
<div class="mvd" style="left:505.50px;top:153.40px;height:89.90px"></div>
<div class="mvd" style="left:571.80px;top:153.40px;height:89.90px"></div>
<div class="mvd" style="left:621.10px;top:153.40px;height:89.90px"></div>
<div class="mvd" style="left:686.60px;top:153.40px;height:89.90px"></div>
<div class="mvd" style="left:760.20px;top:153.40px;height:89.90px"></div>
<div class="mvd" style="left:810.80px;top:153.40px;height:89.90px"></div>
<div class="mvd" style="left:874.20px;top:153.40px;height:89.90px"></div>
<div class="mvd" style="left:947.90px;top:153.40px;height:89.90px"></div>
<div class="mvd" style="left:998.50px;top:153.40px;height:89.90px"></div>
<div class="mvd" style="left:1058.80px;top:153.40px;height:89.90px"></div>
<div class="mvd" style="left:1130.60px;top:153.40px;height:89.90px"></div>
<div class="mvd" style="left:1198.30px;top:153.40px;height:89.90px"></div>
<div class="mvd" style="left:1265.90px;top:153.40px;height:89.90px"></div>
<div class="mvd" style="left:1327.90px;top:153.40px;height:89.90px"></div>
<div class="mvd" style="left:1390.20px;top:153.40px;height:89.90px"></div>
<div class="mvd" style="left:1450.10px;top:153.40px;height:89.90px"></div>
<div class="mvd" style="left:1512.40px;top:153.40px;height:89.90px"></div>
<div class="mvd" style="left:1576.10px;top:153.40px;height:89.90px"></div>
<div class="mvd" style="left:1627.10px;top:153.40px;height:89.90px"></div>
<div class="mvd" style="left:1690.90px;top:153.40px;height:89.90px"></div>
<div class="mvd" style="left:1775.70px;top:153.40px;height:89.90px"></div>
<div class="mvb" style="left:120.50px;top:152.40px;height:91.90px"></div>
<div class="mvb" style="left:1836.40px;top:152.40px;height:91.90px"></div>
<div class="mhb" style="left:120.50px;top:152.40px;width:1717.90px"></div>
<div class="mhb" style="left:120.50px;top:197.20px;width:1717.90px"></div>
<div class="mhb" style="left:120.50px;top:242.30px;width:1717.90px"></div>
</div>
<div id="mtxt" class="tl">
<span class="t b mh" style="top:161.98px;letter-spacing:0.431px;left:195.65px;transform-origin:50% 50%;transform:translateX(-50%) scaleX(1.0700);">First</span>
<span class="t" style="top:206.88px;letter-spacing:1.010px;right:1736.70px;transform-origin:100% 50%;transform:scaleX(1.0300);">2021-12-15</span>
<span class="t b mh" style="top:161.98px;letter-spacing:0.225px;left:344.25px;transform-origin:50% 50%;transform:translateX(-50%) scaleX(1.0700);">Last</span>
<span class="t" style="top:206.88px;letter-spacing:1.010px;right:1587.80px;transform-origin:100% 50%;transform:scaleX(1.0300);">2022-01-09</span>
<span class="t b mh" style="top:161.98px;left:439.10px;transform-origin:50% 50%;transform:translateX(-50%) scaleX(0.9925);">G</span>
<span class="t" style="top:206.88px;letter-spacing:0.749px;right:1547.00px;transform-origin:100% 50%;transform:scaleX(1.0300);">11</span>
<span class="t b mh" style="top:161.98px;left:483.00px;transform-origin:50% 50%;transform:translateX(-50%) scaleX(1.0021);">GS</span>
<span class="t" style="top:206.88px;letter-spacing:0.749px;right:1500.00px;transform-origin:100% 50%;transform:scaleX(1.0300);">11</span>
<span class="t b mh" style="top:161.98px;left:539.65px;transform-origin:50% 50%;transform:translateX(-50%) scaleX(1.0668);">MP</span>
<span class="t" style="top:206.88px;letter-spacing:0.909px;right:1433.70px;transform-origin:100% 50%;transform:scaleX(1.0300);">29.4</span>
<span class="t b mh" style="top:161.98px;left:597.45px;transform-origin:50% 50%;transform:translateX(-50%) scaleX(1.0015);">FG</span>
<span class="t" style="top:206.88px;letter-spacing:0.962px;right:1384.40px;transform-origin:100% 50%;transform:scaleX(1.0300);">4.5</span>
<span class="t b mh" style="top:161.98px;left:654.85px;transform-origin:50% 50%;transform:translateX(-50%) scaleX(1.0088);">FGA</span>
<span class="t" style="top:206.88px;letter-spacing:0.909px;right:1318.90px;transform-origin:100% 50%;transform:scaleX(1.0300);">11.1</span>
<span class="t b mh" style="top:161.98px;letter-spacing:1.206px;left:724.40px;transform-origin:50% 50%;transform:translateX(-50%) scaleX(1.0700);">FG%</span>
<span class="t" style="top:206.88px;letter-spacing:0.909px;right:1245.30px;transform-origin:100% 50%;transform:scaleX(1.0300);">.402</span>
<span class="t b mh" style="top:161.98px;letter-spacing:0.728px;left:786.50px;transform-origin:50% 50%;transform:translateX(-50%) scaleX(1.0700);">3P</span>
<span class="t" style="top:206.88px;letter-spacing:0.962px;right:1194.70px;transform-origin:100% 50%;transform:scaleX(1.0300);">0.9</span>
<span class="t b mh" style="top:161.98px;letter-spacing:0.234px;left:843.50px;transform-origin:50% 50%;transform:translateX(-50%) scaleX(1.0700);">3PA</span>
<span class="t" style="top:206.88px;letter-spacing:0.962px;right:1131.30px;transform-origin:100% 50%;transform:scaleX(1.0300);">4.5</span>
<span class="t b mh" style="top:161.98px;letter-spacing:2.394px;left:912.05px;transform-origin:50% 50%;transform:translateX(-50%) scaleX(1.0700);">3P%</span>
<span class="t" style="top:206.88px;letter-spacing:0.909px;right:1057.60px;transform-origin:100% 50%;transform:scaleX(1.0300);">.200</span>
<span class="t b mh" style="top:161.98px;left:974.20px;transform-origin:50% 50%;transform:translateX(-50%) scaleX(1.0379);">FT</span>
<span class="t" style="top:206.88px;letter-spacing:0.962px;right:1007.00px;transform-origin:100% 50%;transform:scaleX(1.0300);">1.9</span>
<span class="t b mh" style="top:161.98px;left:1029.65px;transform-origin:50% 50%;transform:translateX(-50%) scaleX(1.0323);">FTA</span>
<span class="t" style="top:206.88px;letter-spacing:0.962px;right:946.70px;transform-origin:100% 50%;transform:scaleX(1.0300);">2.1</span>
<span class="t b mh" style="top:161.98px;letter-spacing:1.618px;left:1095.70px;transform-origin:50% 50%;transform:translateX(-50%) scaleX(1.0700);">FT%</span>
<span class="t" style="top:206.88px;letter-spacing:0.909px;right:874.90px;transform-origin:100% 50%;transform:scaleX(1.0300);">.913</span>
<span class="t b mh" style="top:161.98px;left:1165.45px;transform-origin:50% 50%;transform:translateX(-50%) scaleX(1.0255);">ORB</span>
<span class="t" style="top:206.88px;letter-spacing:0.962px;right:807.20px;transform-origin:100% 50%;transform:scaleX(1.0300);">1.2</span>
<span class="t b mh" style="top:161.98px;left:1233.10px;transform-origin:50% 50%;transform:translateX(-50%) scaleX(1.0431);">DRB</span>
<span class="t" style="top:206.88px;letter-spacing:0.962px;right:739.60px;transform-origin:100% 50%;transform:scaleX(1.0300);">4.1</span>
<span class="t b mh" style="top:161.98px;left:1297.90px;transform-origin:50% 50%;transform:translateX(-50%) scaleX(1.0310);">TRB</span>
<span class="t" style="top:206.88px;letter-spacing:0.962px;right:677.60px;transform-origin:100% 50%;transform:scaleX(1.0300);">5.3</span>
<span class="t b mh" style="top:161.98px;left:1360.05px;transform-origin:50% 50%;transform:translateX(-50%) scaleX(1.0319);">AST</span>
<span class="t" style="top:206.88px;letter-spacing:0.962px;right:615.30px;transform-origin:100% 50%;transform:scaleX(1.0300);">2.4</span>
<span class="t b mh" style="top:161.98px;left:1421.15px;transform-origin:50% 50%;transform:translateX(-50%) scaleX(1.0226);">STL</span>
<span class="t" style="top:206.88px;letter-spacing:0.962px;right:555.40px;transform-origin:100% 50%;transform:scaleX(1.0300);">0.5</span>
<span class="t b mh" style="top:161.98px;left:1482.25px;transform-origin:50% 50%;transform:translateX(-50%) scaleX(1.0051);">BLK</span>
<span class="t" style="top:206.88px;letter-spacing:0.962px;right:493.10px;transform-origin:100% 50%;transform:scaleX(1.0300);">0.6</span>
<span class="t b mh" style="top:161.98px;left:1545.25px;transform-origin:50% 50%;transform:translateX(-50%) scaleX(1.0632);">TOV</span>
<span class="t" style="top:206.88px;letter-spacing:0.962px;right:429.40px;transform-origin:100% 50%;transform:scaleX(1.0300);">1.1</span>
<span class="t b mh" style="top:161.98px;left:1602.60px;transform-origin:50% 50%;transform:translateX(-50%) scaleX(1.0302);">PF</span>
<span class="t" style="top:206.88px;letter-spacing:0.962px;right:378.40px;transform-origin:100% 50%;transform:scaleX(1.0300);">2.0</span>
<span class="t b mh" style="top:161.98px;left:1660.00px;transform-origin:50% 50%;transform:translateX(-50%) scaleX(1.0401);">PTS</span>
<span class="t" style="top:206.88px;letter-spacing:0.909px;right:314.60px;transform-origin:100% 50%;transform:scaleX(1.0300);">11.7</span>
<span class="t b mh" style="top:161.98px;left:1734.30px;transform-origin:50% 50%;transform:translateX(-50%) scaleX(1.0431);">GmSc</span>
<span class="t" style="top:206.88px;letter-spacing:0.962px;right:229.80px;transform-origin:100% 50%;transform:scaleX(1.0300);">8.4</span>
<span class="t b mh" style="top:161.98px;letter-spacing:1.120px;left:1807.05px;transform-origin:50% 50%;transform:translateX(-50%) scaleX(1.4500);">+/-</span>
<span class="t" style="top:206.88px;letter-spacing:0.962px;right:169.10px;transform-origin:100% 50%;transform:scaleX(1.0300);">3.0</span>
<span class="t b ttl" style="top:90.94px;left:120.25px;transform-origin:0 50%;transform:scaleX(0.9444)">Basic Game Log (242nd Career Game to 252nd Career Game)</span>
<span class="t ft" style="top:242.89px;left:120.18px;transform-origin:0 50%;transform:scaleX(0.9657)">Clear Selection &amp; Close [X]</span>
<span class="t fd" style="top:242.89px;left:440.71px;transform-origin:0 50%;transform:scaleX(1.0892)">·</span>
<span class="t ft" style="top:242.89px;left:455.78px;transform-origin:0 50%;transform:scaleX(0.9610)">Close [X]</span>
<span class="t fd" style="top:242.89px;left:566.51px;transform-origin:0 50%;transform:scaleX(1.0892)">·</span>
<a class="t ft pl" style="top:242.89px;left:581.42px;transform-origin:0 50%;transform:scaleX(0.9822)">Permanent Link</a>
</div>
</body></html>
